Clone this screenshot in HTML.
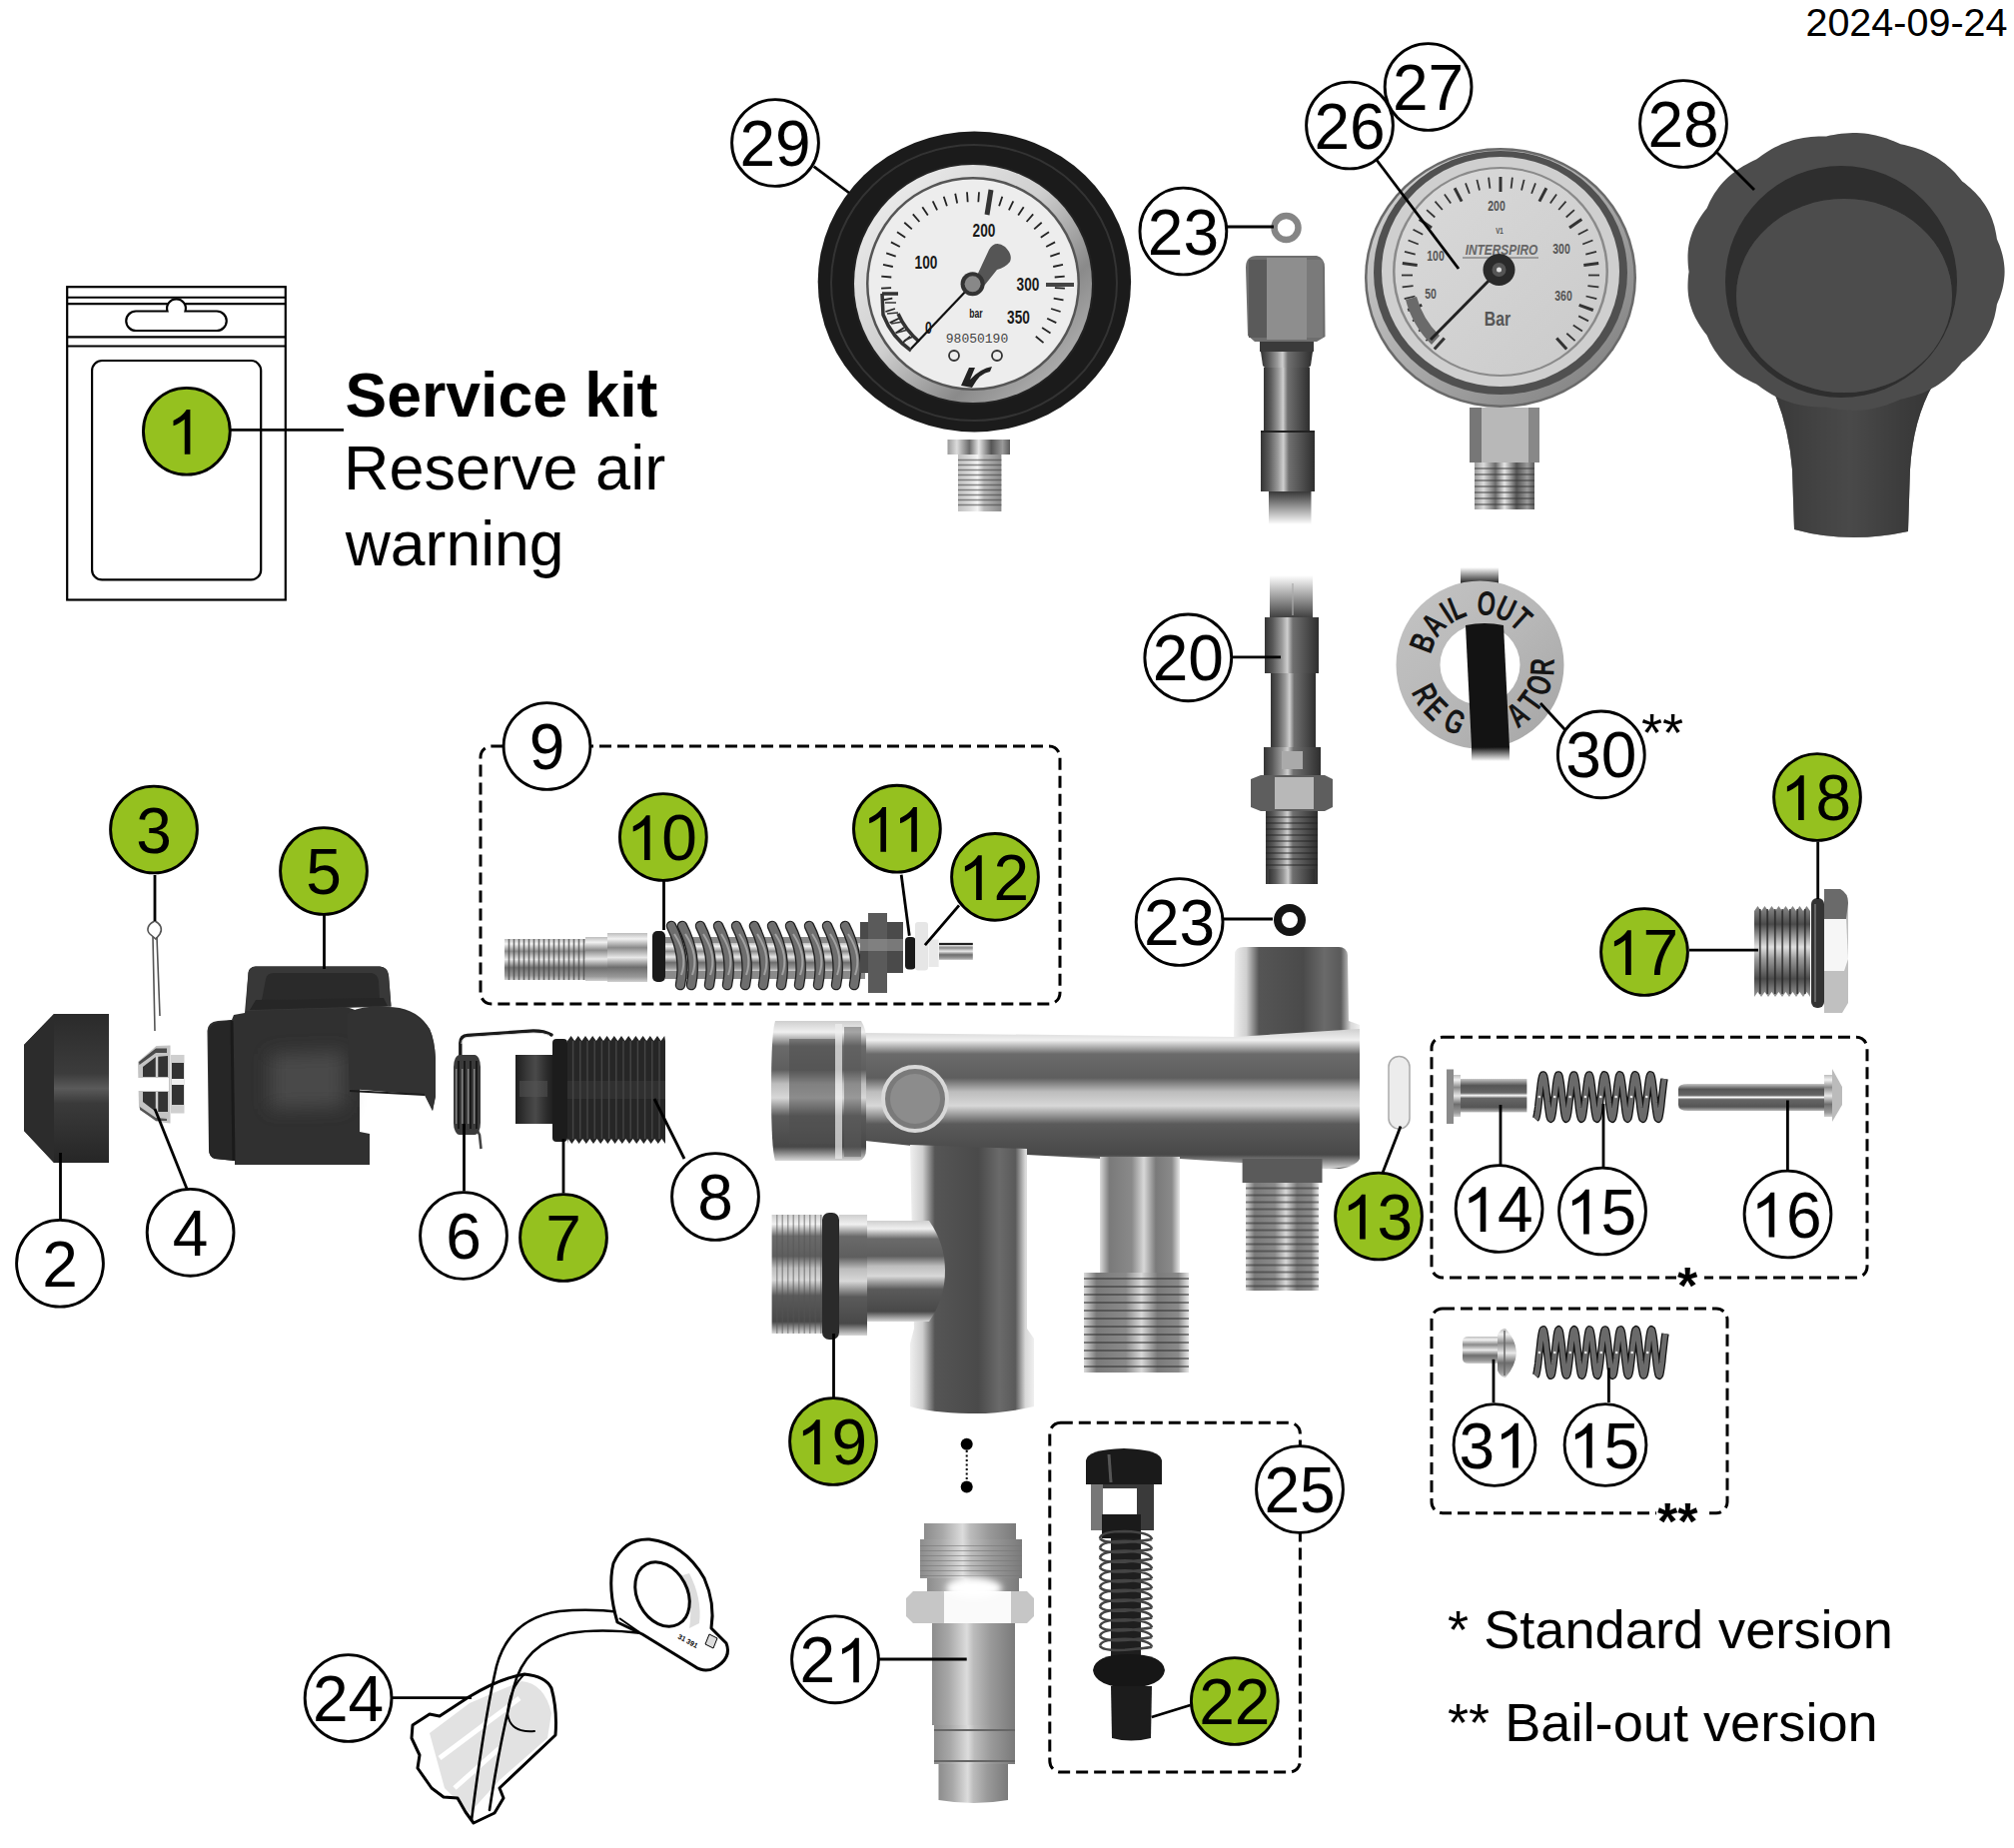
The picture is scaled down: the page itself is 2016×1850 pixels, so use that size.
<!DOCTYPE html><html><head><meta charset="utf-8"><style>html,body{margin:0;padding:0;background:#fff;overflow:hidden}svg{display:block}</style></head><body>
<svg width="2016" height="1850" viewBox="0 0 2016 1850">
<defs>
<filter id="soft" x="-50%" y="-50%" width="200%" height="200%"><feGaussianBlur stdDeviation="9"/></filter>
<filter id="soft3" x="-50%" y="-50%" width="200%" height="200%"><feGaussianBlur stdDeviation="3"/></filter>
<linearGradient id="chrD" x1="0" y1="0" x2="1" y2="0">
 <stop offset="0" stop-color="#333"/><stop offset="0.15" stop-color="#5a5a5a"/><stop offset="0.32" stop-color="#9a9a9a"/><stop offset="0.42" stop-color="#cfcfcf"/>
 <stop offset="0.52" stop-color="#707070"/><stop offset="0.8" stop-color="#4a4a4a"/><stop offset="1" stop-color="#2e2e2e"/>
</linearGradient>
<linearGradient id="chr21" x1="0" y1="0" x2="1" y2="0">
 <stop offset="0" stop-color="#8c8c8c"/><stop offset="0.2" stop-color="#a8a8a8"/><stop offset="0.42" stop-color="#dcdcdc"/><stop offset="0.5" stop-color="#bcbcbc"/>
 <stop offset="0.7" stop-color="#9a9a9a"/><stop offset="1" stop-color="#7a7a7a"/>
</linearGradient>
<linearGradient id="chr17" x1="0" y1="0" x2="0" y2="1">
 <stop offset="0" stop-color="#8a8a8a"/><stop offset="0.2" stop-color="#4a4a4a"/><stop offset="0.45" stop-color="#e0e0e0"/><stop offset="0.58" stop-color="#9a9a9a"/>
 <stop offset="0.8" stop-color="#4a4a4a"/><stop offset="1" stop-color="#9a9a9a"/>
</linearGradient>
<linearGradient id="chrVD" x1="0" y1="0" x2="0" y2="1">
 <stop offset="0" stop-color="#c8c8c8"/><stop offset="0.2" stop-color="#555"/><stop offset="0.42" stop-color="#666"/><stop offset="0.5" stop-color="#fafafa"/>
 <stop offset="0.58" stop-color="#666"/><stop offset="0.85" stop-color="#555"/><stop offset="1" stop-color="#b8b8b8"/>
</linearGradient>
<linearGradient id="chrV" x1="0" y1="0" x2="0" y2="1">
 <stop offset="0" stop-color="#bdbdbd"/><stop offset="0.12" stop-color="#f2f2f2"/><stop offset="0.3" stop-color="#8a8a8a"/>
 <stop offset="0.5" stop-color="#e8e8e8"/><stop offset="0.7" stop-color="#6e6e6e"/><stop offset="0.9" stop-color="#9a9a9a"/><stop offset="1" stop-color="#d0d0d0"/>
</linearGradient>
<linearGradient id="chrH" x1="0" y1="0" x2="1" y2="0">
 <stop offset="0" stop-color="#9a9a9a"/><stop offset="0.15" stop-color="#dcdcdc"/><stop offset="0.35" stop-color="#6a6a6a"/>
 <stop offset="0.5" stop-color="#e6e6e6"/><stop offset="0.7" stop-color="#555"/><stop offset="0.88" stop-color="#9a9a9a"/><stop offset="1" stop-color="#5a5a5a"/>
</linearGradient>
<linearGradient id="chrH2" x1="0" y1="0" x2="1" y2="0">
 <stop offset="0" stop-color="#777"/><stop offset="0.2" stop-color="#c8c8c8"/><stop offset="0.45" stop-color="#e8e8e8"/>
 <stop offset="0.65" stop-color="#8c8c8c"/><stop offset="1" stop-color="#5c5c5c"/>
</linearGradient>
<linearGradient id="chrH3" x1="0" y1="0" x2="1" y2="0">
 <stop offset="0" stop-color="#c0c0c0"/><stop offset="0.25" stop-color="#d8d8d8"/><stop offset="0.45" stop-color="#f4f4f4"/>
 <stop offset="0.6" stop-color="#b8b8b8"/><stop offset="1" stop-color="#8a8a8a"/>
</linearGradient>
<linearGradient id="darkV" x1="0" y1="0" x2="0" y2="1">
 <stop offset="0" stop-color="#2a2a2a"/><stop offset="0.4" stop-color="#3c3c3c"/><stop offset="0.5" stop-color="#5a5a5a"/><stop offset="0.6" stop-color="#3a3a3a"/><stop offset="1" stop-color="#262626"/>
</linearGradient>
<linearGradient id="darkH" x1="0" y1="0" x2="1" y2="0">
 <stop offset="0" stop-color="#1e1e1e"/><stop offset="0.3" stop-color="#3a3a3a"/><stop offset="0.5" stop-color="#4a4a4a"/><stop offset="0.8" stop-color="#2a2a2a"/><stop offset="1" stop-color="#1a1a1a"/>
</linearGradient>
<linearGradient id="hoseFadeTop" x1="0" y1="0" x2="0" y2="1">
 <stop offset="0" stop-color="#3a3a3a" stop-opacity="0"/><stop offset="1" stop-color="#3a3a3a" stop-opacity="1"/>
</linearGradient>
<linearGradient id="hoseFadeBot" x1="0" y1="0" x2="0" y2="1">
 <stop offset="0" stop-color="#3a3a3a" stop-opacity="1"/><stop offset="1" stop-color="#3a3a3a" stop-opacity="0"/>
</linearGradient>
<linearGradient id="blackFadeTop" x1="0" y1="0" x2="0" y2="1">
 <stop offset="0" stop-color="#151515" stop-opacity="0"/><stop offset="1" stop-color="#151515" stop-opacity="1"/>
</linearGradient>
<linearGradient id="blackFadeBot" x1="0" y1="0" x2="0" y2="1">
 <stop offset="0" stop-color="#151515" stop-opacity="1"/><stop offset="1" stop-color="#151515" stop-opacity="0"/>
</linearGradient>
<linearGradient id="hoseH" x1="0" y1="0" x2="1" y2="0">
 <stop offset="0" stop-color="#222"/><stop offset="0.45" stop-color="#444"/><stop offset="0.55" stop-color="#777"/><stop offset="0.65" stop-color="#3a3a3a"/><stop offset="1" stop-color="#222"/>
</linearGradient>
<linearGradient id="bezel29" x1="0" y1="0" x2="1" y2="1">
 <stop offset="0" stop-color="#f4f4f4"/><stop offset="0.45" stop-color="#cfcfcf"/><stop offset="0.7" stop-color="#8a8a8a"/><stop offset="1" stop-color="#c8c8c8"/>
</linearGradient>
<linearGradient id="bezel26" x1="0" y1="0" x2="1" y2="1">
 <stop offset="0" stop-color="#d8d8d8"/><stop offset="0.5" stop-color="#aaaaaa"/><stop offset="1" stop-color="#7a7a7a"/>
</linearGradient>
<radialGradient id="boot28" cx="0.5" cy="0.45" r="0.6">
 <stop offset="0" stop-color="#555"/><stop offset="0.8" stop-color="#4a4a4a"/><stop offset="1" stop-color="#3a3a3a"/>
</radialGradient>
<linearGradient id="disc30" x1="0" y1="0" x2="1" y2="1">
 <stop offset="0" stop-color="#c4c4c4"/><stop offset="0.5" stop-color="#b8b8b8"/><stop offset="1" stop-color="#a4a4a4"/>
</linearGradient>
<linearGradient id="face26" x1="0" y1="0" x2="1" y2="1">
 <stop offset="0" stop-color="#dadada"/><stop offset="1" stop-color="#cacaca"/>
</linearGradient>
<linearGradient id="man" x1="0" y1="0" x2="0" y2="1">
 <stop offset="0" stop-color="#cfcfcf"/><stop offset="0.08" stop-color="#f0f0f0"/><stop offset="0.18" stop-color="#6a6a6a"/><stop offset="0.35" stop-color="#5e5e5e"/>
 <stop offset="0.45" stop-color="#bdbdbd"/><stop offset="0.55" stop-color="#d8d8d8"/><stop offset="0.68" stop-color="#5a5a5a"/><stop offset="0.9" stop-color="#484848"/><stop offset="1" stop-color="#d8d8d8"/>
</linearGradient>
<linearGradient id="manStem" x1="0" y1="0" x2="1" y2="0">
 <stop offset="0" stop-color="#f0f0f0"/><stop offset="0.1" stop-color="#d0d0d0"/><stop offset="0.2" stop-color="#555"/><stop offset="0.55" stop-color="#4a4a4a"/>
 <stop offset="0.72" stop-color="#6a6a6a"/><stop offset="0.85" stop-color="#5a5a5a"/><stop offset="0.93" stop-color="#d8d8d8"/><stop offset="1" stop-color="#f0f0f0"/>
</linearGradient>
<linearGradient id="manStem2" x1="0" y1="0" x2="1" y2="0">
 <stop offset="0" stop-color="#dadada"/><stop offset="0.12" stop-color="#7a7a7a"/><stop offset="0.4" stop-color="#8a8a8a"/><stop offset="0.55" stop-color="#d8d8d8"/>
 <stop offset="0.7" stop-color="#7a7a7a"/><stop offset="0.9" stop-color="#8a8a8a"/><stop offset="1" stop-color="#e8e8e8"/>
</linearGradient>
</defs>
<rect width="2016" height="1850" fill="#fff"/>
<text x="2009.5" y="36" text-anchor="end" font-size="39.5" font-family="Liberation Sans, sans-serif" fill="#000">2024-09-24</text>
<g fill="none" stroke="#000" stroke-width="2.2">
<rect x="67.2" y="287.2" width="218.6" height="313.3"/>
<line x1="67.2" y1="297.75" x2="285.8" y2="297.75"/>
<line x1="67.2" y1="304.2" x2="285.8" y2="304.2"/>
<line x1="67.2" y1="337.3" x2="285.8" y2="337.3"/>
<line x1="67.2" y1="346.5" x2="285.8" y2="346.5"/>
<path d="M 136 311.5 L 167.5 311.5 A 9.4 9.4 0 1 1 185.5 311.5 L 217 311.5 A 9.75 9.75 0 0 1 217 331 L 136 331 A 9.75 9.75 0 0 1 136 311.5 Z" fill="#fff"/>
<rect x="92.1" y="361" width="169.1" height="219.4" rx="10" ry="10"/>
</g>
<text x="345.6" y="416.5" font-size="62.5" font-weight="bold" font-family="Liberation Sans, sans-serif" fill="#000">Service kit</text>
<text x="344" y="490.3" font-size="63" font-family="Liberation Sans, sans-serif" fill="#000">Reserve air</text>
<text x="345.7" y="566" font-size="62.5" font-family="Liberation Sans, sans-serif" fill="#000">warning</text>
<line x1="231" y1="430.4" x2="344" y2="430.4" stroke="#000" stroke-width="2.8"/>
<text x="1449" y="1649.5" font-size="54.2" font-family="Liberation Sans, sans-serif" fill="#000">* Standard version</text>
<text x="1449" y="1742.6" font-size="54.2" font-family="Liberation Sans, sans-serif" fill="#000">** Bail-out version</text>
<rect x="481" y="747" width="580" height="258" rx="11" ry="11" fill="none" stroke="#000" stroke-width="3" stroke-dasharray="12 6"/>
<rect x="1433" y="1038.3" width="436" height="240.70000000000005" rx="11" ry="11" fill="none" stroke="#000" stroke-width="3" stroke-dasharray="12 6"/>
<rect x="1433" y="1310" width="296" height="204.70000000000005" rx="11" ry="11" fill="none" stroke="#000" stroke-width="3" stroke-dasharray="12 6"/>
<rect x="1050.8" y="1424.2" width="250.60000000000014" height="349.79999999999995" rx="11" ry="11" fill="none" stroke="#000" stroke-width="3" stroke-dasharray="12 6"/>
<rect x="1678" y="1268" width="28" height="22" fill="#fff"/>
<text x="1679" y="1305" font-size="52" font-weight="bold" font-family="Liberation Sans, sans-serif" fill="#000">*</text>
<rect x="1658" y="1500" width="50" height="24" fill="#fff"/>
<text x="1659" y="1541" font-size="52" font-weight="bold" font-family="Liberation Sans, sans-serif" fill="#000">**</text>
<path d="M 54 1015 L 109 1015 L 109 1164 L 54 1164 L 24 1132 L 24 1046 Z" fill="#333" /><path d="M 54 1015 L 109 1015 L 109 1164 L 54 1164 Z" fill="url(#darkV)" /><path d="M 24 1046 L 54 1015 L 54 1164 L 24 1132 Z" fill="#2c2c2c" />
<g fill="none" stroke="#555" stroke-width="1.6"><path d="M 155 922 C 148 925 146 931 150 935 L 156 940 L 160 935 C 163 930 161 925 155 922 Z"/><path d="M 153 938 L 155 1032 M 157 938 L 160 1017"/></g>
<rect x="171" y="1056" width="13.5" height="58.5" fill="#cfcfcf" /><rect x="172" y="1064" width="12" height="42" fill="#333" /><rect x="172" y="1080" width="12" height="6" fill="#f0f0f0" /><path d="M 138 1063 L 156.5 1047 L 170.5 1046.5 L 170.5 1124.5 L 156.5 1123 L 139 1109 Z" fill="#c4c4c4" /><path d="M 139 1063 L 156 1049.5 L 167 1049.5 L 167 1054 L 156 1054 L 139.5 1066 Z" fill="#4a4a4a" /><path d="M 143 1068 L 156 1058 L 168 1057 L 168 1078 L 143 1078 Z" fill="#333" /><path d="M 143 1093 L 168 1093 L 168 1113 L 156 1113 L 143 1103 Z" fill="#333" /><path d="M 140 1108 L 156 1119 L 167 1120 L 167 1122 L 156 1122 L 140 1111 Z" fill="#555" /><path d="M 157 1057 L 157 1078 M 157 1093 L 157 1113" stroke="#cfcfcf" stroke-width="2.5"/><rect x="136" y="1079" width="33" height="13" fill="#fff" />
<path d="M 248.5 974 Q 249 968 256 967.5 L 380 967.5 Q 388 968 389 976 L 391.5 1007.5 L 345 1008 Q 357 1010 360 1015 L 365 1012 Q 380 1006 400 1009 Q 420 1013 430 1030 Q 435 1040 436 1060 L 436 1098 L 433 1112 L 425 1096 L 360 1090 L 360 1133 L 370 1135 L 370 1166 L 235 1166 L 235 1162 L 215 1160 Q 209 1158 209 1150 L 207.5 1032 Q 208 1023 218 1022 L 232 1021 L 234 1016 L 245 1014 Z" fill="#303030" /><path d="M 248.5 974 Q 249 968 256 967.5 L 380 967.5 Q 388 968 389 976 L 391.5 1007.5 L 246 1012 Z" fill="#383838" /><path d="M 266 980 Q 267 974 274 974 L 372 974 Q 378 975 379 982 L 380 1000 L 262 1001 Z" fill="#2a2a2a" /><path d="M 256 1001 L 384 999 L 388 1007 L 250 1011 Z" fill="#262626" /><path d="M 209 1032 Q 210 1024 222 1023 L 232 1021 L 234 1162 L 215 1160 Q 209 1158 209 1150 Z" fill="#262626" /><path d="M 232 1022 L 234 1162" stroke="#1a1a1a" stroke-width="3"/><path d="M 270 1055 L 345 1052 L 345 1108 L 270 1110 Z" fill="#4a4a4a" filter="url(#soft)"/><path d="M 347 1015 Q 357 1008 380 1007 Q 415 1010 430 1030 Q 435 1042 436 1060 L 436 1096 L 433 1112 L 425 1096 L 350 1090 Z" fill="#323232" /><path d="M 350 1092 L 425 1096" stroke="#1a1a1a" stroke-width="2"/>
<path d="M 460.8 1057 L 460.8 1044 Q 461 1037 468 1036.5 L 534 1032 Q 545 1032 552 1036" fill="none" stroke="#1a1a1a" stroke-width="3.4" stroke-linecap="round"/><path d="M 462 1045 Q 462 1039 468 1038.5 L 534 1034 Q 544 1034 550 1036.5" fill="none" stroke="#ddd" stroke-width="1"/><path d="M 476 1128 L 480 1136 L 481.5 1150" fill="none" stroke="#444" stroke-width="2.6"/><rect x="454" y="1056" width="27" height="80" rx="6" ry="12" fill="#3a3a3a"/><path d="M 459 1062 L 459 1130" stroke="#111" stroke-width="1.6"/><path d="M 456.8 1070 L 456.8 1125" stroke="#bdbdbd" stroke-width="1" opacity="0.8"/><path d="M 465 1062 L 465 1130" stroke="#111" stroke-width="1.6"/><path d="M 462.8 1070 L 462.8 1125" stroke="#bdbdbd" stroke-width="1" opacity="0.8"/><path d="M 471 1062 L 471 1130" stroke="#111" stroke-width="1.6"/><path d="M 468.8 1070 L 468.8 1125" stroke="#bdbdbd" stroke-width="1" opacity="0.8"/><path d="M 477 1062 L 477 1130" stroke="#111" stroke-width="1.6"/><path d="M 474.8 1070 L 474.8 1125" stroke="#bdbdbd" stroke-width="1" opacity="0.8"/>
<rect x="516" y="1056" width="40" height="69" fill="url(#darkH)" /><rect x="520" y="1082" width="28" height="16" fill="#555" opacity="0.5"/><rect x="553" y="1040" width="15" height="103" fill="#1c1c1c" rx="4"/><path d="M 568 1042 L 571.6 1037 L 575.2 1042 L 578.8 1037 L 582.4 1042 L 586.0 1037 L 589.6 1042 L 593.2 1037 L 596.8 1042 L 600.4 1037 L 604.0 1042 L 607.6 1037 L 611.2 1042 L 614.8 1037 L 618.4 1042 L 622.0 1037 L 625.6 1042 L 629.2 1037 L 632.8 1042 L 636.4 1037 L 640.0 1042 L 643.6 1037 L 647.2 1042 L 650.8 1037 L 654.4 1042 L 658.0 1037 L 661.6 1042 L 665.2 1037 L 666.0 1042 L 666 1145 L 662.4 1140 L 658.8 1145 L 655.2 1140 L 651.6 1145 L 648.0 1140 L 644.4 1145 L 640.8 1140 L 637.2 1145 L 633.6 1140 L 630.0 1145 L 626.4 1140 L 622.8 1145 L 619.2 1140 L 615.6 1145 L 612.0 1140 L 608.4 1145 L 604.8 1140 L 601.2 1145 L 597.6 1140 L 594.0 1145 L 590.4 1140 L 586.8 1145 L 583.2 1140 L 579.6 1145 L 576.0 1140 L 572.4 1145 L 568.8 1140 L 568.0 1145 Z" fill="#262626" /><line x1="573.6" y1="1042" x2="573.6" y2="1140" stroke="#5a5a5a" stroke-width="1.4" opacity="0.6"/><line x1="580.8" y1="1042" x2="580.8" y2="1140" stroke="#5a5a5a" stroke-width="1.4" opacity="0.6"/><line x1="588.0" y1="1042" x2="588.0" y2="1140" stroke="#5a5a5a" stroke-width="1.4" opacity="0.6"/><line x1="595.2" y1="1042" x2="595.2" y2="1140" stroke="#5a5a5a" stroke-width="1.4" opacity="0.6"/><line x1="602.4" y1="1042" x2="602.4" y2="1140" stroke="#5a5a5a" stroke-width="1.4" opacity="0.6"/><line x1="609.6" y1="1042" x2="609.6" y2="1140" stroke="#5a5a5a" stroke-width="1.4" opacity="0.6"/><line x1="616.8" y1="1042" x2="616.8" y2="1140" stroke="#5a5a5a" stroke-width="1.4" opacity="0.6"/><line x1="624.0" y1="1042" x2="624.0" y2="1140" stroke="#5a5a5a" stroke-width="1.4" opacity="0.6"/><line x1="631.2" y1="1042" x2="631.2" y2="1140" stroke="#5a5a5a" stroke-width="1.4" opacity="0.6"/><line x1="638.4" y1="1042" x2="638.4" y2="1140" stroke="#5a5a5a" stroke-width="1.4" opacity="0.6"/><line x1="645.6" y1="1042" x2="645.6" y2="1140" stroke="#5a5a5a" stroke-width="1.4" opacity="0.6"/><line x1="652.8" y1="1042" x2="652.8" y2="1140" stroke="#5a5a5a" stroke-width="1.4" opacity="0.6"/><line x1="660.0" y1="1042" x2="660.0" y2="1140" stroke="#5a5a5a" stroke-width="1.4" opacity="0.6"/><rect x="568" y="1082" width="98" height="18" fill="#444" opacity="0.35"/>
<rect x="505" y="940" width="81" height="41" fill="url(#chrV)" /><line x1="509.5" y1="940" x2="509.5" y2="981" stroke="#444" stroke-width="1.6" opacity="0.7"/><line x1="514.5" y1="940" x2="514.5" y2="981" stroke="#444" stroke-width="1.6" opacity="0.7"/><line x1="519.5" y1="940" x2="519.5" y2="981" stroke="#444" stroke-width="1.6" opacity="0.7"/><line x1="524.5" y1="940" x2="524.5" y2="981" stroke="#444" stroke-width="1.6" opacity="0.7"/><line x1="529.5" y1="940" x2="529.5" y2="981" stroke="#444" stroke-width="1.6" opacity="0.7"/><line x1="534.5" y1="940" x2="534.5" y2="981" stroke="#444" stroke-width="1.6" opacity="0.7"/><line x1="539.5" y1="940" x2="539.5" y2="981" stroke="#444" stroke-width="1.6" opacity="0.7"/><line x1="544.5" y1="940" x2="544.5" y2="981" stroke="#444" stroke-width="1.6" opacity="0.7"/><line x1="549.5" y1="940" x2="549.5" y2="981" stroke="#444" stroke-width="1.6" opacity="0.7"/><line x1="554.5" y1="940" x2="554.5" y2="981" stroke="#444" stroke-width="1.6" opacity="0.7"/><line x1="559.5" y1="940" x2="559.5" y2="981" stroke="#444" stroke-width="1.6" opacity="0.7"/><line x1="564.5" y1="940" x2="564.5" y2="981" stroke="#444" stroke-width="1.6" opacity="0.7"/><line x1="569.5" y1="940" x2="569.5" y2="981" stroke="#444" stroke-width="1.6" opacity="0.7"/><line x1="574.5" y1="940" x2="574.5" y2="981" stroke="#444" stroke-width="1.6" opacity="0.7"/><line x1="579.5" y1="940" x2="579.5" y2="981" stroke="#444" stroke-width="1.6" opacity="0.7"/><line x1="584.5" y1="940" x2="584.5" y2="981" stroke="#444" stroke-width="1.6" opacity="0.7"/><rect x="586" y="938" width="22" height="44" fill="url(#chrV)" /><rect x="608" y="934" width="40" height="49" fill="url(#chrV)" /><rect x="653" y="932" width="13" height="51" fill="#1a1a1a" rx="5"/><rect x="666" y="938" width="200" height="42" fill="#8a8a8a" /><rect x="666" y="944" width="200" height="28" fill="url(#chrV)" /><path d="M 672 927 Q 687 956.5 681 986" fill="none" stroke="#1e1e1e" stroke-width="10.5" stroke-linecap="round"/><path d="M 672 927 Q 687 956.5 681 986" fill="none" stroke="#6e6e6e" stroke-width="8" stroke-linecap="round"/><path d="M 675 935 Q 689 956.5 682 976" fill="none" stroke="#b8b8b8" stroke-width="2" opacity="0.7"/><path d="M 683 927 Q 698 956.5 692 986" fill="none" stroke="#1e1e1e" stroke-width="10.5" stroke-linecap="round"/><path d="M 683 927 Q 698 956.5 692 986" fill="none" stroke="#6e6e6e" stroke-width="8" stroke-linecap="round"/><path d="M 686 935 Q 700 956.5 693 976" fill="none" stroke="#b8b8b8" stroke-width="2" opacity="0.7"/><path d="M 701 927 Q 716 956.5 710 986" fill="none" stroke="#1e1e1e" stroke-width="10.5" stroke-linecap="round"/><path d="M 701 927 Q 716 956.5 710 986" fill="none" stroke="#6e6e6e" stroke-width="8" stroke-linecap="round"/><path d="M 704 935 Q 718 956.5 711 976" fill="none" stroke="#b8b8b8" stroke-width="2" opacity="0.7"/><path d="M 719 927 Q 734 956.5 728 986" fill="none" stroke="#1e1e1e" stroke-width="10.5" stroke-linecap="round"/><path d="M 719 927 Q 734 956.5 728 986" fill="none" stroke="#6e6e6e" stroke-width="8" stroke-linecap="round"/><path d="M 722 935 Q 736 956.5 729 976" fill="none" stroke="#b8b8b8" stroke-width="2" opacity="0.7"/><path d="M 737 927 Q 752 956.5 746 986" fill="none" stroke="#1e1e1e" stroke-width="10.5" stroke-linecap="round"/><path d="M 737 927 Q 752 956.5 746 986" fill="none" stroke="#6e6e6e" stroke-width="8" stroke-linecap="round"/><path d="M 740 935 Q 754 956.5 747 976" fill="none" stroke="#b8b8b8" stroke-width="2" opacity="0.7"/><path d="M 755 927 Q 770 956.5 764 986" fill="none" stroke="#1e1e1e" stroke-width="10.5" stroke-linecap="round"/><path d="M 755 927 Q 770 956.5 764 986" fill="none" stroke="#6e6e6e" stroke-width="8" stroke-linecap="round"/><path d="M 758 935 Q 772 956.5 765 976" fill="none" stroke="#b8b8b8" stroke-width="2" opacity="0.7"/><path d="M 773 927 Q 788 956.5 782 986" fill="none" stroke="#1e1e1e" stroke-width="10.5" stroke-linecap="round"/><path d="M 773 927 Q 788 956.5 782 986" fill="none" stroke="#6e6e6e" stroke-width="8" stroke-linecap="round"/><path d="M 776 935 Q 790 956.5 783 976" fill="none" stroke="#b8b8b8" stroke-width="2" opacity="0.7"/><path d="M 791 927 Q 806 956.5 800 986" fill="none" stroke="#1e1e1e" stroke-width="10.5" stroke-linecap="round"/><path d="M 791 927 Q 806 956.5 800 986" fill="none" stroke="#6e6e6e" stroke-width="8" stroke-linecap="round"/><path d="M 794 935 Q 808 956.5 801 976" fill="none" stroke="#b8b8b8" stroke-width="2" opacity="0.7"/><path d="M 810 927 Q 825 956.5 819 986" fill="none" stroke="#1e1e1e" stroke-width="10.5" stroke-linecap="round"/><path d="M 810 927 Q 825 956.5 819 986" fill="none" stroke="#6e6e6e" stroke-width="8" stroke-linecap="round"/><path d="M 813 935 Q 827 956.5 820 976" fill="none" stroke="#b8b8b8" stroke-width="2" opacity="0.7"/><path d="M 828 927 Q 843 956.5 837 986" fill="none" stroke="#1e1e1e" stroke-width="10.5" stroke-linecap="round"/><path d="M 828 927 Q 843 956.5 837 986" fill="none" stroke="#6e6e6e" stroke-width="8" stroke-linecap="round"/><path d="M 831 935 Q 845 956.5 838 976" fill="none" stroke="#b8b8b8" stroke-width="2" opacity="0.7"/><path d="M 846 927 Q 861 956.5 855 986" fill="none" stroke="#1e1e1e" stroke-width="10.5" stroke-linecap="round"/><path d="M 846 927 Q 861 956.5 855 986" fill="none" stroke="#6e6e6e" stroke-width="8" stroke-linecap="round"/><path d="M 849 935 Q 863 956.5 856 976" fill="none" stroke="#b8b8b8" stroke-width="2" opacity="0.7"/><rect x="861" y="923" width="43" height="51" fill="#4a4a4a" /><rect x="869" y="914" width="19" height="80" fill="#5a5a5a" /><rect x="861" y="940" width="43" height="12" fill="#9a9a9a" opacity="0.6"/><rect x="906" y="938" width="10.5" height="32.39999999999998" fill="#1a1a1a" rx="4"/><rect x="916" y="923" width="13" height="48.60000000000002" fill="#e6e6e6" rx="3"/><rect x="929.6" y="940.5" width="10.0" height="27.5" fill="#e9e9e9" /><rect x="940" y="943.6" width="33.799999999999955" height="17.399999999999977" fill="url(#chrV)" /><line x1="940" y1="945" x2="973.8" y2="945" stroke="#222" stroke-width="2"/>
<path d="M 1236 956 Q 1236 948 1245 948 L 1340 948 Q 1348 948 1349 956 L 1350 1022 L 1361 1026 L 1361 1160 Q 1358 1168 1340 1170 L 1255 1166 L 1235 1040 Z" fill="url(#manStem)" /><path d="M 866 1034 L 1236 1038 L 1361 1030 L 1361 1160 Q 1358 1168 1330 1170 L 1181 1160 L 1101 1160 L 1028 1156 L 922 1148 L 866 1142 Z" fill="url(#man)" /><path d="M 776 1022 L 862 1022 Q 867 1030 867 1040 L 867 1150 Q 867 1160 860 1162 L 776 1162 Q 772 1150 772 1092 Q 772 1034 776 1022 Z" fill="url(#man)" /><rect x="790" y="1040" width="46" height="105" fill="#4e4e4e" opacity="0.55"/><rect x="836" y="1025" width="7" height="135" fill="#eee" opacity="0.7"/><rect x="845" y="1028" width="17" height="130" fill="#5a5a5a" opacity="0.5"/><circle cx="916" cy="1100" r="32" fill="#7a7a7a" stroke="#d8d8d8" stroke-width="4"/><circle cx="916" cy="1100" r="25" fill="#8c8c8c"/><path d="M 911 1146 L 1028 1150 L 1028 1330 L 1035 1340 L 1035 1408 Q 1000 1416 970 1415 Q 930 1414 911 1408 L 911 1345 L 915 1330 Z" fill="url(#manStem)" /><path d="M 866 1222 L 930 1222 Q 946 1245 946 1272 Q 946 1300 930 1323 L 866 1323 Z" fill="url(#man)" /><rect x="840" y="1216" width="28" height="121" fill="url(#man)" /><rect x="823" y="1214" width="17" height="127" fill="#2a2a2a" rx="7"/><rect x="772.6" y="1216" width="50.39999999999998" height="119" fill="url(#man)" /><line x1="777.8" y1="1216" x2="777.8" y2="1335" stroke="#555" stroke-width="1.2" opacity="0.6"/><line x1="783.2" y1="1216" x2="783.2" y2="1335" stroke="#555" stroke-width="1.2" opacity="0.6"/><line x1="788.8" y1="1216" x2="788.8" y2="1335" stroke="#555" stroke-width="1.2" opacity="0.6"/><line x1="794.2" y1="1216" x2="794.2" y2="1335" stroke="#555" stroke-width="1.2" opacity="0.6"/><line x1="799.8" y1="1216" x2="799.8" y2="1335" stroke="#555" stroke-width="1.2" opacity="0.6"/><line x1="805.2" y1="1216" x2="805.2" y2="1335" stroke="#555" stroke-width="1.2" opacity="0.6"/><line x1="810.8" y1="1216" x2="810.8" y2="1335" stroke="#555" stroke-width="1.2" opacity="0.6"/><line x1="816.2" y1="1216" x2="816.2" y2="1335" stroke="#555" stroke-width="1.2" opacity="0.6"/><line x1="821.8" y1="1216" x2="821.8" y2="1335" stroke="#555" stroke-width="1.2" opacity="0.6"/><rect x="1101" y="1158" width="80" height="117" fill="url(#manStem2)" /><rect x="1085" y="1274" width="105" height="100" fill="url(#manStem2)" /><line x1="1085" y1="1280.0" x2="1190" y2="1280.0" stroke="#333" stroke-width="2" opacity="0.55"/><line x1="1085" y1="1288.0" x2="1190" y2="1288.0" stroke="#333" stroke-width="2" opacity="0.55"/><line x1="1085" y1="1296.0" x2="1190" y2="1296.0" stroke="#333" stroke-width="2" opacity="0.55"/><line x1="1085" y1="1304.0" x2="1190" y2="1304.0" stroke="#333" stroke-width="2" opacity="0.55"/><line x1="1085" y1="1312.0" x2="1190" y2="1312.0" stroke="#333" stroke-width="2" opacity="0.55"/><line x1="1085" y1="1320.0" x2="1190" y2="1320.0" stroke="#333" stroke-width="2" opacity="0.55"/><line x1="1085" y1="1328.0" x2="1190" y2="1328.0" stroke="#333" stroke-width="2" opacity="0.55"/><line x1="1085" y1="1336.0" x2="1190" y2="1336.0" stroke="#333" stroke-width="2" opacity="0.55"/><line x1="1085" y1="1344.0" x2="1190" y2="1344.0" stroke="#333" stroke-width="2" opacity="0.55"/><line x1="1085" y1="1352.0" x2="1190" y2="1352.0" stroke="#333" stroke-width="2" opacity="0.55"/><line x1="1085" y1="1360.0" x2="1190" y2="1360.0" stroke="#333" stroke-width="2" opacity="0.55"/><line x1="1085" y1="1368.0" x2="1190" y2="1368.0" stroke="#333" stroke-width="2" opacity="0.55"/><rect x="1243.6" y="1160" width="79.90000000000009" height="24" fill="#5a5a5a" /><rect x="1247" y="1184" width="73" height="108" fill="url(#manStem2)" /><line x1="1247" y1="1189.5" x2="1320" y2="1189.5" stroke="#333" stroke-width="1.8" opacity="0.55"/><line x1="1247" y1="1196.5" x2="1320" y2="1196.5" stroke="#333" stroke-width="1.8" opacity="0.55"/><line x1="1247" y1="1203.5" x2="1320" y2="1203.5" stroke="#333" stroke-width="1.8" opacity="0.55"/><line x1="1247" y1="1210.5" x2="1320" y2="1210.5" stroke="#333" stroke-width="1.8" opacity="0.55"/><line x1="1247" y1="1217.5" x2="1320" y2="1217.5" stroke="#333" stroke-width="1.8" opacity="0.55"/><line x1="1247" y1="1224.5" x2="1320" y2="1224.5" stroke="#333" stroke-width="1.8" opacity="0.55"/><line x1="1247" y1="1231.5" x2="1320" y2="1231.5" stroke="#333" stroke-width="1.8" opacity="0.55"/><line x1="1247" y1="1238.5" x2="1320" y2="1238.5" stroke="#333" stroke-width="1.8" opacity="0.55"/><line x1="1247" y1="1245.5" x2="1320" y2="1245.5" stroke="#333" stroke-width="1.8" opacity="0.55"/><line x1="1247" y1="1252.5" x2="1320" y2="1252.5" stroke="#333" stroke-width="1.8" opacity="0.55"/><line x1="1247" y1="1259.5" x2="1320" y2="1259.5" stroke="#333" stroke-width="1.8" opacity="0.55"/><line x1="1247" y1="1266.5" x2="1320" y2="1266.5" stroke="#333" stroke-width="1.8" opacity="0.55"/><line x1="1247" y1="1273.5" x2="1320" y2="1273.5" stroke="#333" stroke-width="1.8" opacity="0.55"/><line x1="1247" y1="1280.5" x2="1320" y2="1280.5" stroke="#333" stroke-width="1.8" opacity="0.55"/><line x1="1247" y1="1287.5" x2="1320" y2="1287.5" stroke="#333" stroke-width="1.8" opacity="0.55"/>
<rect x="1390" y="1057.5" width="21" height="72.5" rx="10.5" fill="#ececec" stroke="#aaa" stroke-width="1.5"/>
<rect x="1448" y="1070.5" width="7" height="54.5" fill="#8a8a8a" /><rect x="1455" y="1076" width="7" height="42" fill="url(#chrV)" /><rect x="1462" y="1080" width="66.40000000000009" height="33.40000000000009" fill="url(#chrVD)" /><polyline points="1537.0,1120.2 1537.7,1119.4 1538.3,1117.0 1539.0,1113.2 1539.7,1108.2 1540.3,1102.5 1541.0,1096.4 1541.7,1090.5 1542.3,1085.1 1543.0,1080.7 1543.7,1077.6 1544.4,1075.9 1545.0,1076.0 1545.7,1077.6 1546.4,1080.8 1547.0,1085.2 1547.7,1090.6 1548.4,1096.6 1549.0,1102.6 1549.7,1108.3 1550.4,1113.3 1551.0,1117.1 1551.7,1119.5 1552.4,1120.2 1553.0,1119.4 1553.7,1116.9 1554.4,1113.1 1555.0,1108.1 1555.7,1102.4 1556.4,1096.3 1557.1,1090.4 1557.7,1085.0 1558.4,1080.6 1559.1,1077.5 1559.7,1075.9 1560.4,1076.0 1561.1,1077.7 1561.7,1080.9 1562.4,1085.4 1563.1,1090.8 1563.7,1096.7 1564.4,1102.8 1565.1,1108.5 1565.7,1113.4 1566.4,1117.2 1567.1,1119.5 1567.7,1120.2 1568.4,1119.3 1569.1,1116.9 1569.8,1113.0 1570.4,1108.0 1571.1,1102.2 1571.8,1096.2 1572.4,1090.2 1573.1,1084.9 1573.8,1080.5 1574.4,1077.5 1575.1,1075.9 1575.8,1076.0 1576.4,1077.7 1577.1,1081.0 1577.8,1085.5 1578.4,1090.9 1579.1,1096.9 1579.8,1102.9 1580.4,1108.6 1581.1,1113.5 1581.8,1117.2 1582.5,1119.5 1583.1,1120.2 1583.8,1119.3 1584.5,1116.8 1585.1,1112.9 1585.8,1107.8 1586.5,1102.1 1587.1,1096.0 1587.8,1090.1 1588.5,1084.8 1589.1,1080.4 1589.8,1077.4 1590.5,1075.9 1591.1,1076.0 1591.8,1077.8 1592.5,1081.1 1593.1,1085.6 1593.8,1091.1 1594.5,1097.0 1595.2,1103.1 1595.8,1108.7 1596.5,1113.6 1597.2,1117.3 1597.8,1119.6 1598.5,1120.2 1599.2,1119.3 1599.8,1116.7 1600.5,1112.7 1601.2,1107.7 1601.8,1101.9 1602.5,1095.9 1603.2,1090.0 1603.8,1084.7 1604.5,1080.3 1605.2,1077.3 1605.8,1075.9 1606.5,1076.1 1607.2,1077.9 1607.8,1081.2 1608.5,1085.7 1609.2,1091.2 1609.9,1097.2 1610.5,1103.2 1611.2,1108.9 1611.9,1113.7 1612.5,1117.4 1613.2,1119.6 1613.9,1120.2 1614.5,1119.2 1615.2,1116.6 1615.9,1112.6 1616.5,1107.6 1617.2,1101.8 1617.9,1095.7 1618.5,1089.8 1619.2,1084.5 1619.9,1080.3 1620.5,1077.3 1621.2,1075.9 1621.9,1076.1 1622.6,1077.9 1623.2,1081.3 1623.9,1085.8 1624.6,1091.3 1625.2,1097.3 1625.9,1103.3 1626.6,1109.0 1627.2,1113.8 1627.9,1117.4 1628.6,1119.6 1629.2,1120.2 1629.9,1119.2 1630.6,1116.5 1631.2,1112.5 1631.9,1107.4 1632.6,1101.6 1633.2,1095.6 1633.9,1089.7 1634.6,1084.4 1635.3,1080.2 1635.9,1077.2 1636.6,1075.8 1637.3,1076.1 1637.9,1078.0 1638.6,1081.4 1639.3,1086.0 1639.9,1091.5 1640.6,1097.5 1641.3,1103.5 1641.9,1109.1 1642.6,1113.9 1643.3,1117.5 1643.9,1119.7 1644.6,1120.2 1645.3,1119.1 1645.9,1116.5 1646.6,1112.4 1647.3,1107.3 1648.0,1101.5 1648.6,1095.4 1649.3,1089.6 1650.0,1084.3 1650.6,1080.1 1651.3,1077.2 1652.0,1075.8 1652.6,1076.1 1653.3,1078.1 1654.0,1081.5 1654.6,1086.1 1655.3,1091.6 1656.0,1097.6 1656.6,1103.6 1657.3,1109.2 1658.0,1114.0 1658.6,1117.6 1659.3,1119.7 1660.0,1120.2 1660.7,1119.1 1661.3,1116.4 1662.0,1112.3 1662.7,1107.2 1663.3,1101.4 1664.0,1095.3 1664.7,1089.4 1665.3,1084.2 1666.0,1080.0" fill="none" stroke="#111" stroke-width="7.5" stroke-linejoin="round"/><polyline points="1537.0,1120.2 1537.7,1119.4 1538.3,1117.0 1539.0,1113.2 1539.7,1108.2 1540.3,1102.5 1541.0,1096.4 1541.7,1090.5 1542.3,1085.1 1543.0,1080.7 1543.7,1077.6 1544.4,1075.9 1545.0,1076.0 1545.7,1077.6 1546.4,1080.8 1547.0,1085.2 1547.7,1090.6 1548.4,1096.6 1549.0,1102.6 1549.7,1108.3 1550.4,1113.3 1551.0,1117.1 1551.7,1119.5 1552.4,1120.2 1553.0,1119.4 1553.7,1116.9 1554.4,1113.1 1555.0,1108.1 1555.7,1102.4 1556.4,1096.3 1557.1,1090.4 1557.7,1085.0 1558.4,1080.6 1559.1,1077.5 1559.7,1075.9 1560.4,1076.0 1561.1,1077.7 1561.7,1080.9 1562.4,1085.4 1563.1,1090.8 1563.7,1096.7 1564.4,1102.8 1565.1,1108.5 1565.7,1113.4 1566.4,1117.2 1567.1,1119.5 1567.7,1120.2 1568.4,1119.3 1569.1,1116.9 1569.8,1113.0 1570.4,1108.0 1571.1,1102.2 1571.8,1096.2 1572.4,1090.2 1573.1,1084.9 1573.8,1080.5 1574.4,1077.5 1575.1,1075.9 1575.8,1076.0 1576.4,1077.7 1577.1,1081.0 1577.8,1085.5 1578.4,1090.9 1579.1,1096.9 1579.8,1102.9 1580.4,1108.6 1581.1,1113.5 1581.8,1117.2 1582.5,1119.5 1583.1,1120.2 1583.8,1119.3 1584.5,1116.8 1585.1,1112.9 1585.8,1107.8 1586.5,1102.1 1587.1,1096.0 1587.8,1090.1 1588.5,1084.8 1589.1,1080.4 1589.8,1077.4 1590.5,1075.9 1591.1,1076.0 1591.8,1077.8 1592.5,1081.1 1593.1,1085.6 1593.8,1091.1 1594.5,1097.0 1595.2,1103.1 1595.8,1108.7 1596.5,1113.6 1597.2,1117.3 1597.8,1119.6 1598.5,1120.2 1599.2,1119.3 1599.8,1116.7 1600.5,1112.7 1601.2,1107.7 1601.8,1101.9 1602.5,1095.9 1603.2,1090.0 1603.8,1084.7 1604.5,1080.3 1605.2,1077.3 1605.8,1075.9 1606.5,1076.1 1607.2,1077.9 1607.8,1081.2 1608.5,1085.7 1609.2,1091.2 1609.9,1097.2 1610.5,1103.2 1611.2,1108.9 1611.9,1113.7 1612.5,1117.4 1613.2,1119.6 1613.9,1120.2 1614.5,1119.2 1615.2,1116.6 1615.9,1112.6 1616.5,1107.6 1617.2,1101.8 1617.9,1095.7 1618.5,1089.8 1619.2,1084.5 1619.9,1080.3 1620.5,1077.3 1621.2,1075.9 1621.9,1076.1 1622.6,1077.9 1623.2,1081.3 1623.9,1085.8 1624.6,1091.3 1625.2,1097.3 1625.9,1103.3 1626.6,1109.0 1627.2,1113.8 1627.9,1117.4 1628.6,1119.6 1629.2,1120.2 1629.9,1119.2 1630.6,1116.5 1631.2,1112.5 1631.9,1107.4 1632.6,1101.6 1633.2,1095.6 1633.9,1089.7 1634.6,1084.4 1635.3,1080.2 1635.9,1077.2 1636.6,1075.8 1637.3,1076.1 1637.9,1078.0 1638.6,1081.4 1639.3,1086.0 1639.9,1091.5 1640.6,1097.5 1641.3,1103.5 1641.9,1109.1 1642.6,1113.9 1643.3,1117.5 1643.9,1119.7 1644.6,1120.2 1645.3,1119.1 1645.9,1116.5 1646.6,1112.4 1647.3,1107.3 1648.0,1101.5 1648.6,1095.4 1649.3,1089.6 1650.0,1084.3 1650.6,1080.1 1651.3,1077.2 1652.0,1075.8 1652.6,1076.1 1653.3,1078.1 1654.0,1081.5 1654.6,1086.1 1655.3,1091.6 1656.0,1097.6 1656.6,1103.6 1657.3,1109.2 1658.0,1114.0 1658.6,1117.6 1659.3,1119.7 1660.0,1120.2 1660.7,1119.1 1661.3,1116.4 1662.0,1112.3 1662.7,1107.2 1663.3,1101.4 1664.0,1095.3 1664.7,1089.4 1665.3,1084.2 1666.0,1080.0" fill="none" stroke="#6a6a6a" stroke-width="5.0" stroke-linejoin="round"/><circle cx="1540.8" cy="1098.0" r="1.3" fill="#eee"/><circle cx="1556.2" cy="1098.0" r="1.3" fill="#eee"/><circle cx="1571.6" cy="1098.0" r="1.3" fill="#eee"/><circle cx="1586.9" cy="1098.0" r="1.3" fill="#eee"/><circle cx="1602.3" cy="1098.0" r="1.3" fill="#eee"/><circle cx="1617.6" cy="1098.0" r="1.3" fill="#eee"/><circle cx="1633.0" cy="1098.0" r="1.3" fill="#eee"/><circle cx="1648.3" cy="1098.0" r="1.3" fill="#eee"/><path d="M 1680 1090 Q 1680 1085 1690 1085 L 1826 1085 L 1826 1112 L 1690 1112 Q 1680 1112 1680 1106 Z" fill="url(#chrVD)" /><rect x="1826" y="1076" width="8" height="42" fill="url(#chrV)" /><path d="M 1834 1070 L 1844 1088 L 1844 1106 L 1834 1123 Z" fill="#bbb" />
<path d="M 1756 912 L 1759.5 907 L 1763.0 912 L 1766.5 907 L 1770.0 912 L 1773.5 907 L 1777.0 912 L 1780.5 907 L 1784.0 912 L 1787.5 907 L 1791.0 912 L 1794.5 907 L 1798.0 912 L 1801.5 907 L 1805.0 912 L 1808.5 907 L 1812.0 912 L 1812 998  L 1808.5 993 L 1805.0 998 L 1801.5 993 L 1798.0 998 L 1794.5 993 L 1791.0 998 L 1787.5 993 L 1784.0 998 L 1780.5 993 L 1777.0 998 L 1773.5 993 L 1770.0 998 L 1766.5 993 L 1763.0 998 L 1759.5 993 L 1756.0 998 Z" fill="url(#chr17)" /><line x1="1761.8" y1="910" x2="1761.8" y2="995" stroke="#222" stroke-width="1.8" opacity="0.75"/><line x1="1769.2" y1="910" x2="1769.2" y2="995" stroke="#222" stroke-width="1.8" opacity="0.75"/><line x1="1776.8" y1="910" x2="1776.8" y2="995" stroke="#222" stroke-width="1.8" opacity="0.75"/><line x1="1784.2" y1="910" x2="1784.2" y2="995" stroke="#222" stroke-width="1.8" opacity="0.75"/><line x1="1791.8" y1="910" x2="1791.8" y2="995" stroke="#222" stroke-width="1.8" opacity="0.75"/><line x1="1799.2" y1="910" x2="1799.2" y2="995" stroke="#222" stroke-width="1.8" opacity="0.75"/><line x1="1806.8" y1="910" x2="1806.8" y2="995" stroke="#222" stroke-width="1.8" opacity="0.75"/><rect x="1813" y="899" width="13" height="110" fill="#333" rx="6"/><line x1="1817" y1="905" x2="1817" y2="1003" stroke="#777" stroke-width="1.5"/><path d="M 1826 890 L 1842 890 Q 1850 894 1850 904 L 1850 1004 L 1844 1014 L 1826 1014 Z" fill="#c0c0c0" /><path d="M 1826 890 L 1842 890 Q 1850 894 1850 904 L 1848 920 L 1826 920 Z" fill="#6a6a6a" /><path d="M 1826 920 L 1848 920 L 1850 960 L 1846 972 L 1826 972 Z" fill="#f6f6f6" />
<path d="M 1464 1343 Q 1464 1338 1470 1338 L 1500 1338 L 1500 1365 L 1470 1365 Q 1464 1365 1464 1360 Z" fill="url(#chrV)" /><path d="M 1499 1336 Q 1503 1329 1507 1330 Q 1517 1340 1518 1354 Q 1517 1368 1507 1379 Q 1502 1379 1499 1372 Z" fill="url(#chrV)" /><line x1="1506" y1="1332" x2="1506" y2="1377" stroke="#666" stroke-width="1.5"/><polyline points="1537.0,1377.2 1537.7,1376.4 1538.3,1373.9 1539.0,1370.0 1539.7,1364.9 1540.3,1359.0 1541.0,1352.8 1541.7,1346.6 1542.3,1341.0 1543.0,1336.3 1543.7,1332.9 1544.3,1331.1 1545.0,1330.9 1545.7,1332.4 1546.3,1335.5 1547.0,1339.9 1547.7,1345.3 1548.3,1351.4 1549.0,1357.7 1549.7,1363.7 1550.3,1369.0 1551.0,1373.2 1551.7,1376.0 1552.3,1377.2 1553.0,1376.7 1553.7,1374.6 1554.3,1370.9 1555.0,1366.1 1555.7,1360.3 1556.3,1354.1 1557.0,1347.9 1557.7,1342.1 1558.3,1337.2 1559.0,1333.5 1559.7,1331.3 1560.3,1330.8 1561.0,1331.9 1561.7,1334.7 1562.3,1338.8 1563.0,1344.1 1563.7,1350.1 1564.3,1356.4 1565.0,1362.5 1565.7,1367.9 1566.3,1372.4 1567.0,1375.5 1567.7,1377.1 1568.3,1377.0 1569.0,1375.2 1569.7,1371.8 1570.3,1367.2 1571.0,1361.6 1571.7,1355.5 1572.3,1349.2 1573.0,1343.3 1573.7,1338.2 1574.3,1334.2 1575.0,1331.7 1575.7,1330.8 1576.3,1331.5 1577.0,1334.0 1577.7,1337.8 1578.3,1342.9 1579.0,1348.8 1579.7,1355.0 1580.3,1361.2 1581.0,1366.8 1581.7,1371.6 1582.3,1375.0 1583.0,1376.9 1583.7,1377.1 1584.3,1375.7 1585.0,1372.7 1585.7,1368.3 1586.3,1362.9 1587.0,1356.8 1587.7,1350.5 1588.3,1344.5 1589.0,1339.2 1589.7,1334.9 1590.3,1332.1 1591.0,1330.8 1591.7,1331.2 1592.3,1333.3 1593.0,1336.9 1593.7,1341.7 1594.3,1347.5 1595.0,1353.7 1595.7,1359.9 1596.3,1365.7 1597.0,1370.6 1597.7,1374.4 1598.3,1376.6 1599.0,1377.2 1599.7,1376.1 1600.3,1373.4 1601.0,1369.3 1601.7,1364.1 1602.3,1358.1 1603.0,1351.9 1603.7,1345.8 1604.3,1340.2 1605.0,1335.7 1605.7,1332.6 1606.3,1330.9 1607.0,1331.0 1607.7,1332.7 1608.3,1336.0 1609.0,1340.6 1609.7,1346.2 1610.3,1352.3 1611.0,1358.6 1611.7,1364.5 1612.3,1369.7 1613.0,1373.7 1613.7,1376.3 1614.3,1377.2 1615.0,1376.5 1615.7,1374.2 1616.3,1370.3 1617.0,1365.3 1617.7,1359.5 1618.3,1353.2 1619.0,1347.0 1619.7,1341.4 1620.3,1336.6 1621.0,1333.1 1621.7,1331.1 1622.3,1330.8 1623.0,1332.2 1623.7,1335.2 1624.3,1339.5 1625.0,1344.9 1625.7,1351.0 1626.3,1357.2 1627.0,1363.3 1627.7,1368.6 1628.3,1372.9 1629.0,1375.9 1629.7,1377.2 1630.3,1376.8 1631.0,1374.8 1631.7,1371.3 1632.3,1366.5 1633.0,1360.8 1633.7,1354.6 1634.3,1348.3 1635.0,1342.5 1635.7,1337.5 1636.3,1333.7 1637.0,1331.4 1637.7,1330.8 1638.3,1331.8 1639.0,1334.4 1639.7,1338.5 1640.3,1343.7 1641.0,1349.6 1641.7,1355.9 1642.3,1362.0 1643.0,1367.6 1643.7,1372.1 1644.3,1375.4 1645.0,1377.0 1645.7,1377.0 1646.3,1375.4 1647.0,1372.1 1647.7,1367.6 1648.3,1362.0 1649.0,1355.9 1649.7,1349.6 1650.3,1343.7 1651.0,1338.5 1651.7,1334.4 1652.3,1331.8 1653.0,1330.8 1653.7,1331.4 1654.3,1333.7 1655.0,1337.5 1655.7,1342.5 1656.3,1348.3 1657.0,1354.6 1657.7,1360.8 1658.3,1366.5 1659.0,1371.3 1659.7,1374.8 1660.3,1376.8 1661.0,1377.2 1661.7,1375.9 1662.3,1372.9 1663.0,1368.6 1663.7,1363.3 1664.3,1357.2 1665.0,1351.0 1665.7,1344.9 1666.3,1339.5 1667.0,1335.2" fill="none" stroke="#111" stroke-width="7.5" stroke-linejoin="round"/><polyline points="1537.0,1377.2 1537.7,1376.4 1538.3,1373.9 1539.0,1370.0 1539.7,1364.9 1540.3,1359.0 1541.0,1352.8 1541.7,1346.6 1542.3,1341.0 1543.0,1336.3 1543.7,1332.9 1544.3,1331.1 1545.0,1330.9 1545.7,1332.4 1546.3,1335.5 1547.0,1339.9 1547.7,1345.3 1548.3,1351.4 1549.0,1357.7 1549.7,1363.7 1550.3,1369.0 1551.0,1373.2 1551.7,1376.0 1552.3,1377.2 1553.0,1376.7 1553.7,1374.6 1554.3,1370.9 1555.0,1366.1 1555.7,1360.3 1556.3,1354.1 1557.0,1347.9 1557.7,1342.1 1558.3,1337.2 1559.0,1333.5 1559.7,1331.3 1560.3,1330.8 1561.0,1331.9 1561.7,1334.7 1562.3,1338.8 1563.0,1344.1 1563.7,1350.1 1564.3,1356.4 1565.0,1362.5 1565.7,1367.9 1566.3,1372.4 1567.0,1375.5 1567.7,1377.1 1568.3,1377.0 1569.0,1375.2 1569.7,1371.8 1570.3,1367.2 1571.0,1361.6 1571.7,1355.5 1572.3,1349.2 1573.0,1343.3 1573.7,1338.2 1574.3,1334.2 1575.0,1331.7 1575.7,1330.8 1576.3,1331.5 1577.0,1334.0 1577.7,1337.8 1578.3,1342.9 1579.0,1348.8 1579.7,1355.0 1580.3,1361.2 1581.0,1366.8 1581.7,1371.6 1582.3,1375.0 1583.0,1376.9 1583.7,1377.1 1584.3,1375.7 1585.0,1372.7 1585.7,1368.3 1586.3,1362.9 1587.0,1356.8 1587.7,1350.5 1588.3,1344.5 1589.0,1339.2 1589.7,1334.9 1590.3,1332.1 1591.0,1330.8 1591.7,1331.2 1592.3,1333.3 1593.0,1336.9 1593.7,1341.7 1594.3,1347.5 1595.0,1353.7 1595.7,1359.9 1596.3,1365.7 1597.0,1370.6 1597.7,1374.4 1598.3,1376.6 1599.0,1377.2 1599.7,1376.1 1600.3,1373.4 1601.0,1369.3 1601.7,1364.1 1602.3,1358.1 1603.0,1351.9 1603.7,1345.8 1604.3,1340.2 1605.0,1335.7 1605.7,1332.6 1606.3,1330.9 1607.0,1331.0 1607.7,1332.7 1608.3,1336.0 1609.0,1340.6 1609.7,1346.2 1610.3,1352.3 1611.0,1358.6 1611.7,1364.5 1612.3,1369.7 1613.0,1373.7 1613.7,1376.3 1614.3,1377.2 1615.0,1376.5 1615.7,1374.2 1616.3,1370.3 1617.0,1365.3 1617.7,1359.5 1618.3,1353.2 1619.0,1347.0 1619.7,1341.4 1620.3,1336.6 1621.0,1333.1 1621.7,1331.1 1622.3,1330.8 1623.0,1332.2 1623.7,1335.2 1624.3,1339.5 1625.0,1344.9 1625.7,1351.0 1626.3,1357.2 1627.0,1363.3 1627.7,1368.6 1628.3,1372.9 1629.0,1375.9 1629.7,1377.2 1630.3,1376.8 1631.0,1374.8 1631.7,1371.3 1632.3,1366.5 1633.0,1360.8 1633.7,1354.6 1634.3,1348.3 1635.0,1342.5 1635.7,1337.5 1636.3,1333.7 1637.0,1331.4 1637.7,1330.8 1638.3,1331.8 1639.0,1334.4 1639.7,1338.5 1640.3,1343.7 1641.0,1349.6 1641.7,1355.9 1642.3,1362.0 1643.0,1367.6 1643.7,1372.1 1644.3,1375.4 1645.0,1377.0 1645.7,1377.0 1646.3,1375.4 1647.0,1372.1 1647.7,1367.6 1648.3,1362.0 1649.0,1355.9 1649.7,1349.6 1650.3,1343.7 1651.0,1338.5 1651.7,1334.4 1652.3,1331.8 1653.0,1330.8 1653.7,1331.4 1654.3,1333.7 1655.0,1337.5 1655.7,1342.5 1656.3,1348.3 1657.0,1354.6 1657.7,1360.8 1658.3,1366.5 1659.0,1371.3 1659.7,1374.8 1660.3,1376.8 1661.0,1377.2 1661.7,1375.9 1662.3,1372.9 1663.0,1368.6 1663.7,1363.3 1664.3,1357.2 1665.0,1351.0 1665.7,1344.9 1666.3,1339.5 1667.0,1335.2" fill="none" stroke="#6a6a6a" stroke-width="5.0" stroke-linejoin="round"/><circle cx="1540.9" cy="1354.0" r="1.3" fill="#eee"/><circle cx="1556.3" cy="1354.0" r="1.3" fill="#eee"/><circle cx="1571.8" cy="1354.0" r="1.3" fill="#eee"/><circle cx="1587.3" cy="1354.0" r="1.3" fill="#eee"/><circle cx="1602.8" cy="1354.0" r="1.3" fill="#eee"/><circle cx="1618.2" cy="1354.0" r="1.3" fill="#eee"/><circle cx="1633.7" cy="1354.0" r="1.3" fill="#eee"/><circle cx="1649.2" cy="1354.0" r="1.3" fill="#eee"/>
<circle cx="1287.5" cy="228" r="12" fill="none" stroke="#858585" stroke-width="6.5"/><path d="M 1247 268 Q 1247 256 1258 256 L 1318 256 Q 1326 258 1326 268 L 1326.5 337 L 1318 342 L 1256 342 L 1249 336 Z" fill="#6e6e6e" /><rect x="1268" y="258" width="40" height="82" fill="#8e8e8e" /><rect x="1250" y="260" width="18" height="78" fill="#5a5a5a" /><rect x="1308" y="260" width="16" height="78" fill="#7a7a7a" /><rect x="1261" y="342" width="54" height="10" fill="#3a3a3a" /><path d="M 1262 352 L 1314 352 L 1312 366 L 1310 368 L 1266 368 L 1264 366 Z" fill="url(#chrD)" /><rect x="1265" y="368" width="46" height="64" fill="url(#chrD)" /><rect x="1262" y="432" width="54" height="60" fill="url(#chrD)" /><line x1="1262" y1="432" x2="1316" y2="432" stroke="#222" stroke-width="2"/><rect x="1270" y="492" width="42.5" height="33" fill="url(#blackFadeBot)" opacity="0.85"/><rect x="1271" y="576" width="43" height="44" fill="url(#blackFadeTop)" opacity="0.85"/><line x1="1294" y1="584" x2="1294" y2="616" stroke="#aaa" stroke-width="2" opacity="0.6"/><rect x="1266" y="618" width="54" height="56" fill="url(#chrD)" /><rect x="1272" y="674" width="45" height="74" fill="url(#chrD)" /><rect x="1265" y="748" width="57" height="28" fill="url(#chrD)" /><rect x="1283" y="752" width="21" height="18" fill="#aaa" /><path d="M 1252 780 L 1262 776 L 1326 776 L 1334 780 L 1334 808 L 1326 812 L 1262 812 L 1252 808 Z" fill="#5e5e5e" /><rect x="1276" y="778" width="39" height="32" fill="#b8b8b8" /><rect x="1267" y="812" width="52" height="73" fill="url(#chrD)" /><line x1="1267" y1="818.0" x2="1319" y2="818.0" stroke="#222" stroke-width="1.6" opacity="0.6"/><line x1="1267" y1="824.0" x2="1319" y2="824.0" stroke="#222" stroke-width="1.6" opacity="0.6"/><line x1="1267" y1="830.0" x2="1319" y2="830.0" stroke="#222" stroke-width="1.6" opacity="0.6"/><line x1="1267" y1="836.0" x2="1319" y2="836.0" stroke="#222" stroke-width="1.6" opacity="0.6"/><line x1="1267" y1="842.0" x2="1319" y2="842.0" stroke="#222" stroke-width="1.6" opacity="0.6"/><line x1="1267" y1="848.0" x2="1319" y2="848.0" stroke="#222" stroke-width="1.6" opacity="0.6"/><line x1="1267" y1="854.0" x2="1319" y2="854.0" stroke="#222" stroke-width="1.6" opacity="0.6"/><line x1="1267" y1="860.0" x2="1319" y2="860.0" stroke="#222" stroke-width="1.6" opacity="0.6"/><line x1="1267" y1="866.0" x2="1319" y2="866.0" stroke="#222" stroke-width="1.6" opacity="0.6"/><rect x="1270" y="870" width="46" height="15" fill="url(#chrD)" /><circle cx="1291" cy="921" r="12" fill="none" stroke="#151515" stroke-width="8"/>
<ellipse cx="975.4" cy="282" rx="156.7" ry="150.5" fill="#1b1b1b"/><ellipse cx="975" cy="283" rx="143" ry="138" fill="none" stroke="#333" stroke-width="2"/><circle cx="974" cy="284" r="121" fill="#222"/><circle cx="974" cy="284" r="119" fill="url(#bezel29)"/><circle cx="974" cy="284" r="107" fill="#555"/><circle cx="974" cy="284" r="104.5" fill="#ededed"/><line x1="903.5" y1="343.1" x2="911.2" y2="336.7" stroke="#222" stroke-width="1.8"/><line x1="896.5" y1="333.5" x2="904.9" y2="328.1" stroke="#222" stroke-width="1.8"/><line x1="890.7" y1="323.1" x2="899.8" y2="318.8" stroke="#222" stroke-width="1.8"/><line x1="886.4" y1="312.0" x2="895.9" y2="309.0" stroke="#222" stroke-width="1.8"/><line x1="883.5" y1="300.4" x2="893.3" y2="298.6" stroke="#222" stroke-width="1.8"/><line x1="882.1" y1="288.6" x2="892.1" y2="288.1" stroke="#222" stroke-width="1.8"/><line x1="882.3" y1="276.7" x2="892.3" y2="277.5" stroke="#222" stroke-width="1.8"/><line x1="884.0" y1="264.9" x2="893.8" y2="267.0" stroke="#222" stroke-width="1.8"/><line x1="887.2" y1="253.4" x2="896.7" y2="256.7" stroke="#222" stroke-width="1.8"/><line x1="891.9" y1="242.4" x2="900.8" y2="247.0" stroke="#222" stroke-width="1.8"/><line x1="898.0" y1="232.2" x2="906.2" y2="237.8" stroke="#222" stroke-width="1.8"/><line x1="905.3" y1="222.8" x2="912.8" y2="229.4" stroke="#222" stroke-width="1.8"/><line x1="913.8" y1="214.4" x2="920.4" y2="222.0" stroke="#222" stroke-width="1.8"/><line x1="923.3" y1="207.2" x2="928.8" y2="215.6" stroke="#222" stroke-width="1.8"/><line x1="933.7" y1="201.3" x2="938.1" y2="210.3" stroke="#222" stroke-width="1.8"/><line x1="944.7" y1="196.8" x2="947.9" y2="206.3" stroke="#222" stroke-width="1.8"/><line x1="956.2" y1="193.7" x2="958.2" y2="203.5" stroke="#222" stroke-width="1.8"/><line x1="968.0" y1="192.2" x2="968.7" y2="202.2" stroke="#222" stroke-width="1.8"/><line x1="980.0" y1="192.2" x2="979.3" y2="202.2" stroke="#222" stroke-width="1.8"/><line x1="991.8" y1="193.7" x2="989.8" y2="203.5" stroke="#222" stroke-width="1.8"/><line x1="1003.3" y1="196.8" x2="1000.1" y2="206.3" stroke="#222" stroke-width="1.8"/><line x1="1014.3" y1="201.3" x2="1009.9" y2="210.3" stroke="#222" stroke-width="1.8"/><line x1="1024.7" y1="207.2" x2="1019.2" y2="215.6" stroke="#222" stroke-width="1.8"/><line x1="1034.2" y1="214.4" x2="1027.6" y2="222.0" stroke="#222" stroke-width="1.8"/><line x1="1042.7" y1="222.8" x2="1035.2" y2="229.4" stroke="#222" stroke-width="1.8"/><line x1="1050.0" y1="232.2" x2="1041.8" y2="237.8" stroke="#222" stroke-width="1.8"/><line x1="1056.1" y1="242.4" x2="1047.2" y2="247.0" stroke="#222" stroke-width="1.8"/><line x1="1060.8" y1="253.4" x2="1051.3" y2="256.7" stroke="#222" stroke-width="1.8"/><line x1="1064.0" y1="264.9" x2="1054.2" y2="267.0" stroke="#222" stroke-width="1.8"/><line x1="1065.7" y1="276.7" x2="1055.7" y2="277.5" stroke="#222" stroke-width="1.8"/><line x1="1065.9" y1="288.6" x2="1055.9" y2="288.1" stroke="#222" stroke-width="1.8"/><line x1="1064.5" y1="300.4" x2="1054.7" y2="298.6" stroke="#222" stroke-width="1.8"/><line x1="1061.6" y1="312.0" x2="1052.1" y2="309.0" stroke="#222" stroke-width="1.8"/><line x1="1057.3" y1="323.1" x2="1048.2" y2="318.8" stroke="#222" stroke-width="1.8"/><line x1="1051.5" y1="333.5" x2="1043.1" y2="328.1" stroke="#222" stroke-width="1.8"/><line x1="1044.5" y1="343.1" x2="1036.8" y2="336.7" stroke="#222" stroke-width="1.8"/><line x1="992" y1="190" x2="988" y2="215" stroke="#333" stroke-width="5"/><line x1="1047" y1="285" x2="1075" y2="285" stroke="#444" stroke-width="4"/><path d="M 883 294 L 899 294 M 883 294 L 884 315 Q 893 338 912 351 M 899 314 Q 906 330 920 342" fill="none" stroke="#333" stroke-width="3.5"/><line x1="886" y1="303" x2="897" y2="303" stroke="#333" stroke-width="1.5"/><line x1="888" y1="314" x2="899" y2="313" stroke="#333" stroke-width="1.5"/><line x1="892" y1="324" x2="904" y2="322" stroke="#333" stroke-width="1.5"/><line x1="898" y1="333" x2="909" y2="330" stroke="#333" stroke-width="1.5"/><line x1="905" y1="341" x2="914" y2="337" stroke="#333" stroke-width="1.5"/><text x="985" y="237" font-size="19" text-anchor="middle" font-family="Liberation Sans, sans-serif" font-weight="bold" fill="#1a1a1a" transform="translate(985,237) scale(0.72,1) translate(-985,-237)">200</text><text x="927" y="269" font-size="19" text-anchor="middle" font-family="Liberation Sans, sans-serif" font-weight="bold" fill="#1a1a1a" transform="translate(927,269) scale(0.72,1) translate(-927,-269)">100</text><text x="1029" y="291" font-size="19" text-anchor="middle" font-family="Liberation Sans, sans-serif" font-weight="bold" fill="#1a1a1a" transform="translate(1029,291) scale(0.72,1) translate(-1029,-291)">300</text><text x="1019.5" y="324" font-size="19" text-anchor="middle" font-family="Liberation Sans, sans-serif" font-weight="bold" fill="#1a1a1a" transform="translate(1019.5,324) scale(0.72,1) translate(-1019.5,-324)">350</text><text x="929.5" y="334" font-size="17" text-anchor="middle" font-family="Liberation Sans, sans-serif" font-weight="bold" fill="#1a1a1a" transform="translate(929.5,334) scale(0.72,1) translate(-929.5,-334)">0</text><text x="977" y="318" font-size="12" text-anchor="middle" font-family="Liberation Sans, sans-serif" font-weight="bold" fill="#1a1a1a" transform="translate(977,318) scale(0.72,1) translate(-977,-318)">bar</text><text x="978" y="343" font-size="13" text-anchor="middle" font-family="Liberation Mono, monospace" fill="#444">98050190</text><circle cx="955" cy="356" r="5" fill="none" stroke="#333" stroke-width="1.8"/><circle cx="998" cy="356" r="5" fill="none" stroke="#333" stroke-width="1.8"/><path d="M 962 386 L 970 368 L 976 368 L 971 380 Q 981 369 993 367 L 991 372 Q 981 373 973 388 Z" fill="#222"/><line x1="973.6" y1="284.3" x2="912" y2="349" stroke="#111" stroke-width="2.2"/><path d="M 976 280 L 990 250 Q 996 240 1006 247 Q 1014 255 1011 262 Q 1006 268 998 270 L 982 290 Z" fill="#555"/><circle cx="973.6" cy="284.3" r="12" fill="#333"/><circle cx="973.6" cy="284.3" r="8" fill="#888"/><rect x="948.5" y="440" width="62.5" height="15" fill="url(#chrH)" /><rect x="959" y="455" width="43.39999999999998" height="57" fill="url(#chrH3)" /><line x1="959" y1="460.5" x2="1002.4" y2="460.5" stroke="#444" stroke-width="1.4" opacity="0.6"/><line x1="959" y1="465.5" x2="1002.4" y2="465.5" stroke="#444" stroke-width="1.4" opacity="0.6"/><line x1="959" y1="470.5" x2="1002.4" y2="470.5" stroke="#444" stroke-width="1.4" opacity="0.6"/><line x1="959" y1="475.5" x2="1002.4" y2="475.5" stroke="#444" stroke-width="1.4" opacity="0.6"/><line x1="959" y1="480.5" x2="1002.4" y2="480.5" stroke="#444" stroke-width="1.4" opacity="0.6"/><line x1="959" y1="485.5" x2="1002.4" y2="485.5" stroke="#444" stroke-width="1.4" opacity="0.6"/><line x1="959" y1="490.5" x2="1002.4" y2="490.5" stroke="#444" stroke-width="1.4" opacity="0.6"/><line x1="959" y1="495.5" x2="1002.4" y2="495.5" stroke="#444" stroke-width="1.4" opacity="0.6"/><line x1="959" y1="500.5" x2="1002.4" y2="500.5" stroke="#444" stroke-width="1.4" opacity="0.6"/><line x1="959" y1="505.5" x2="1002.4" y2="505.5" stroke="#444" stroke-width="1.4" opacity="0.6"/>
<rect x="1471" y="408" width="70" height="55" fill="#b8b8b8" /><rect x="1471" y="408" width="12" height="55" fill="#777" /><rect x="1530" y="408" width="11" height="55" fill="#888" /><rect x="1476" y="463" width="60" height="47" fill="url(#chrH)" /><line x1="1476" y1="469.0" x2="1536" y2="469.0" stroke="#333" stroke-width="1.6" opacity="0.6"/><line x1="1476" y1="475.0" x2="1536" y2="475.0" stroke="#333" stroke-width="1.6" opacity="0.6"/><line x1="1476" y1="481.0" x2="1536" y2="481.0" stroke="#333" stroke-width="1.6" opacity="0.6"/><line x1="1476" y1="487.0" x2="1536" y2="487.0" stroke="#333" stroke-width="1.6" opacity="0.6"/><line x1="1476" y1="493.0" x2="1536" y2="493.0" stroke="#333" stroke-width="1.6" opacity="0.6"/><line x1="1476" y1="499.0" x2="1536" y2="499.0" stroke="#333" stroke-width="1.6" opacity="0.6"/><line x1="1476" y1="505.0" x2="1536" y2="505.0" stroke="#333" stroke-width="1.6" opacity="0.6"/><ellipse cx="1502" cy="278" rx="136" ry="130" fill="#6a6a6a"/><ellipse cx="1502" cy="278" rx="133.5" ry="127.5" fill="url(#bezel26)"/><ellipse cx="1502" cy="273" rx="127" ry="122" fill="#505050"/><ellipse cx="1502" cy="272" rx="119" ry="115" fill="#cfcfcf"/><ellipse cx="1502" cy="272" rx="108" ry="105" fill="#8a8a8a"/><ellipse cx="1502" cy="272" rx="105.5" ry="103" fill="url(#face26)"/><line x1="1435.8" y1="349.6" x2="1445.8" y2="338.4" stroke="#333" stroke-width="3"/><line x1="1427.4" y1="341.1" x2="1435.7" y2="333.8" stroke="#333" stroke-width="1.8"/><line x1="1420.1" y1="331.6" x2="1429.2" y2="325.5" stroke="#333" stroke-width="1.8"/><line x1="1414.0" y1="321.4" x2="1423.8" y2="316.4" stroke="#333" stroke-width="1.8"/><line x1="1409.2" y1="310.5" x2="1423.3" y2="305.3" stroke="#333" stroke-width="3"/><line x1="1405.7" y1="299.1" x2="1416.4" y2="296.5" stroke="#333" stroke-width="1.8"/><line x1="1403.7" y1="287.4" x2="1414.6" y2="286.1" stroke="#333" stroke-width="1.8"/><line x1="1403.0" y1="275.5" x2="1414.0" y2="275.5" stroke="#333" stroke-width="1.8"/><line x1="1403.8" y1="263.6" x2="1418.7" y2="265.5" stroke="#333" stroke-width="3"/><line x1="1406.0" y1="251.9" x2="1416.7" y2="254.6" stroke="#333" stroke-width="1.8"/><line x1="1409.6" y1="240.5" x2="1419.8" y2="244.5" stroke="#333" stroke-width="1.8"/><line x1="1414.5" y1="229.7" x2="1424.2" y2="234.8" stroke="#333" stroke-width="1.8"/><line x1="1420.7" y1="219.5" x2="1433.0" y2="228.1" stroke="#333" stroke-width="3"/><line x1="1428.1" y1="210.1" x2="1436.3" y2="217.5" stroke="#333" stroke-width="1.8"/><line x1="1436.5" y1="201.7" x2="1443.8" y2="210.0" stroke="#333" stroke-width="1.8"/><line x1="1445.9" y1="194.4" x2="1452.2" y2="203.5" stroke="#333" stroke-width="1.8"/><line x1="1456.1" y1="188.3" x2="1463.1" y2="201.6" stroke="#333" stroke-width="3"/><line x1="1467.0" y1="183.4" x2="1470.9" y2="193.7" stroke="#333" stroke-width="1.8"/><line x1="1478.4" y1="179.9" x2="1481.0" y2="190.5" stroke="#333" stroke-width="1.8"/><line x1="1490.1" y1="177.7" x2="1491.4" y2="188.6" stroke="#333" stroke-width="1.8"/><line x1="1502.0" y1="177.0" x2="1502.0" y2="192.0" stroke="#333" stroke-width="3"/><line x1="1513.9" y1="177.7" x2="1512.6" y2="188.6" stroke="#333" stroke-width="1.8"/><line x1="1525.6" y1="179.9" x2="1523.0" y2="190.5" stroke="#333" stroke-width="1.8"/><line x1="1537.0" y1="183.4" x2="1533.1" y2="193.7" stroke="#333" stroke-width="1.8"/><line x1="1547.9" y1="188.3" x2="1540.9" y2="201.6" stroke="#333" stroke-width="3"/><line x1="1558.1" y1="194.4" x2="1551.8" y2="203.5" stroke="#333" stroke-width="1.8"/><line x1="1567.5" y1="201.7" x2="1560.2" y2="210.0" stroke="#333" stroke-width="1.8"/><line x1="1575.9" y1="210.1" x2="1567.7" y2="217.5" stroke="#333" stroke-width="1.8"/><line x1="1583.3" y1="219.5" x2="1571.0" y2="228.1" stroke="#333" stroke-width="3"/><line x1="1589.5" y1="229.7" x2="1579.8" y2="234.8" stroke="#333" stroke-width="1.8"/><line x1="1594.4" y1="240.5" x2="1584.2" y2="244.5" stroke="#333" stroke-width="1.8"/><line x1="1598.0" y1="251.9" x2="1587.3" y2="254.6" stroke="#333" stroke-width="1.8"/><line x1="1600.2" y1="263.6" x2="1585.3" y2="265.5" stroke="#333" stroke-width="3"/><line x1="1601.0" y1="275.5" x2="1590.0" y2="275.5" stroke="#333" stroke-width="1.8"/><line x1="1600.3" y1="287.4" x2="1589.4" y2="286.1" stroke="#333" stroke-width="1.8"/><line x1="1598.3" y1="299.1" x2="1587.6" y2="296.5" stroke="#333" stroke-width="1.8"/><line x1="1594.8" y1="310.5" x2="1580.7" y2="305.3" stroke="#333" stroke-width="3"/><line x1="1590.0" y1="321.4" x2="1580.2" y2="316.4" stroke="#333" stroke-width="1.8"/><line x1="1583.9" y1="331.6" x2="1574.8" y2="325.5" stroke="#333" stroke-width="1.8"/><line x1="1576.6" y1="341.1" x2="1568.3" y2="333.8" stroke="#333" stroke-width="1.8"/><line x1="1568.2" y1="349.6" x2="1558.2" y2="338.4" stroke="#333" stroke-width="3"/><text x="1498" y="211" font-size="15" text-anchor="middle" font-family="Liberation Sans, sans-serif" font-weight="bold" fill="#555" transform="translate(1498,211) scale(0.7,1) translate(-1498,-211)">200</text><text x="1437" y="261" font-size="15" text-anchor="middle" font-family="Liberation Sans, sans-serif" font-weight="bold" fill="#555" transform="translate(1437,261) scale(0.7,1) translate(-1437,-261)">100</text><text x="1563" y="254" font-size="15" text-anchor="middle" font-family="Liberation Sans, sans-serif" font-weight="bold" fill="#555" transform="translate(1563,254) scale(0.7,1) translate(-1563,-254)">300</text><text x="1432" y="299" font-size="15" text-anchor="middle" font-family="Liberation Sans, sans-serif" font-weight="bold" fill="#555" transform="translate(1432,299) scale(0.7,1) translate(-1432,-299)">50</text><text x="1565" y="301" font-size="15" text-anchor="middle" font-family="Liberation Sans, sans-serif" font-weight="bold" fill="#555" transform="translate(1565,301) scale(0.7,1) translate(-1565,-301)">360</text><text x="1501" y="234" font-size="9" text-anchor="middle" font-family="Liberation Sans, sans-serif" font-weight="bold" fill="#555" transform="translate(1501,234) scale(0.7,1) translate(-1501,-234)">V1</text><text x="1499" y="326" font-size="21" text-anchor="middle" font-family="Liberation Sans, sans-serif" font-weight="bold" fill="#555" transform="translate(1499,326) scale(0.75,1) translate(-1499,-326)">Bar</text><text x="1503" y="255" font-size="14" text-anchor="middle" font-family="Liberation Sans, sans-serif" font-weight="bold" font-style="italic" fill="#666" transform="translate(1503,255) scale(0.85,1) translate(-1503,-255)">INTERSPIRO</text><line x1="1464" y1="258" x2="1540" y2="258" stroke="#888" stroke-width="1.5"/><path d="M 1407 300 A 98 98 0 0 0 1433 345 L 1441 336 A 86 86 0 0 1 1418 297 Z" fill="#6a6a6a"/><line x1="1501" y1="270" x2="1432" y2="340" stroke="#222" stroke-width="3"/><circle cx="1500.5" cy="270" r="16" fill="#2a2a2a"/><circle cx="1500.5" cy="270" r="7" fill="#555"/><circle cx="1500.5" cy="270" r="2.5" fill="#ddd"/>
<path d="M 1770 380 Q 1790 420 1794 470 L 1796 530 Q 1850 545 1910 532 L 1912 470 Q 1915 420 1935 385 Z" fill="url(#darkH)" /><path d="M 1770 380 Q 1790 420 1794 470 L 1796 530 Q 1850 545 1910 532 L 1912 470 Q 1915 420 1935 385 Z" fill="#4a4a4a" opacity="0.6"/><polygon points="2006.6,272.0 2006.5,275.4 2006.2,278.7 2005.8,282.1 2005.2,285.4 2004.5,288.7 2003.6,292.0 2002.6,295.2 2001.5,298.4 2000.2,301.6 1998.9,304.7 1998.4,308.0 1997.8,311.3 1997.1,314.6 1996.3,317.9 1995.3,321.1 1994.2,324.4 1993.0,327.5 1991.6,330.7 1990.0,333.8 1988.3,336.8 1986.4,339.7 1984.4,342.6 1982.3,345.4 1980.0,348.1 1977.6,350.7 1975.0,353.3 1972.4,355.7 1969.7,358.1 1966.9,360.4 1964.1,362.6 1961.9,365.3 1959.6,368.0 1957.3,370.7 1954.8,373.2 1952.2,375.7 1949.5,378.1 1946.7,380.4 1943.8,382.6 1940.8,384.7 1937.7,386.7 1934.4,388.6 1931.1,390.3 1927.7,391.9 1924.3,393.4 1920.7,394.7 1917.1,395.9 1913.5,397.0 1909.9,398.0 1906.2,398.9 1902.5,399.7 1899.1,401.3 1895.6,402.7 1892.1,404.1 1888.6,405.4 1885.0,406.5 1881.3,407.6 1877.6,408.5 1873.8,409.3 1870.1,409.9 1866.2,410.4 1862.4,410.7 1858.5,410.9 1854.7,410.9 1850.8,410.8 1847.0,410.6 1843.2,410.2 1839.4,409.7 1835.6,409.1 1831.9,408.4 1828.1,407.6 1824.3,407.6 1820.5,407.5 1816.7,407.3 1812.8,407.0 1809.0,406.5 1805.2,406.0 1801.5,405.3 1797.7,404.4 1794.0,403.4 1790.4,402.3 1786.8,401.1 1783.3,399.7 1779.9,398.1 1776.5,396.5 1773.3,394.7 1770.1,392.8 1767.0,390.8 1764.0,388.8 1761.0,386.6 1758.1,384.4 1754.8,382.9 1751.4,381.2 1748.2,379.5 1744.9,377.7 1741.8,375.7 1738.7,373.7 1735.8,371.5 1732.9,369.3 1730.2,366.9 1727.6,364.4 1725.1,361.9 1722.7,359.2 1720.5,356.4 1718.4,353.6 1716.4,350.7 1714.6,347.8 1712.9,344.7 1711.3,341.7 1709.9,338.6 1708.5,335.5 1706.3,332.7 1704.3,329.9 1702.3,327.1 1700.4,324.1 1698.7,321.1 1697.0,318.1 1695.6,315.0 1694.2,311.8 1693.1,308.6 1692.1,305.4 1691.2,302.1 1690.5,298.8 1690.0,295.4 1689.7,292.1 1689.5,288.7 1689.5,285.3 1689.6,282.0 1689.8,278.6 1690.1,275.3 1690.6,272.0 1690.1,268.7 1689.8,265.4 1689.6,262.0 1689.5,258.7 1689.5,255.3 1689.7,251.9 1690.0,248.6 1690.5,245.2 1691.2,241.9 1692.1,238.6 1693.1,235.4 1694.2,232.2 1695.6,229.0 1697.0,225.9 1698.7,222.9 1700.4,219.9 1702.3,216.9 1704.3,214.1 1706.3,211.3 1708.5,208.5 1709.9,205.4 1711.3,202.3 1712.9,199.3 1714.6,196.2 1716.4,193.3 1718.4,190.4 1720.5,187.6 1722.7,184.8 1725.1,182.1 1727.6,179.6 1730.2,177.1 1732.9,174.7 1735.8,172.5 1738.7,170.3 1741.8,168.3 1744.9,166.3 1748.2,164.5 1751.4,162.8 1754.8,161.1 1758.1,159.6 1761.0,157.4 1764.0,155.2 1767.0,153.2 1770.1,151.2 1773.3,149.3 1776.5,147.5 1779.9,145.9 1783.3,144.3 1786.8,142.9 1790.4,141.7 1794.0,140.6 1797.7,139.6 1801.5,138.7 1805.2,138.0 1809.0,137.5 1812.8,137.0 1816.7,136.7 1820.5,136.5 1824.3,136.4 1828.1,136.4 1831.9,135.6 1835.6,134.9 1839.4,134.3 1843.2,133.8 1847.0,133.4 1850.8,133.2 1854.7,133.1 1858.5,133.1 1862.4,133.3 1866.2,133.6 1870.1,134.1 1873.8,134.7 1877.6,135.5 1881.3,136.4 1885.0,137.5 1888.6,138.6 1892.1,139.9 1895.6,141.3 1899.1,142.7 1902.5,144.3 1906.2,145.1 1909.9,146.0 1913.5,147.0 1917.1,148.1 1920.7,149.3 1924.3,150.6 1927.7,152.1 1931.1,153.7 1934.4,155.4 1937.7,157.3 1940.8,159.3 1943.8,161.4 1946.7,163.6 1949.5,165.9 1952.2,168.3 1954.8,170.8 1957.3,173.3 1959.6,176.0 1961.9,178.7 1964.1,181.4 1966.9,183.6 1969.7,185.9 1972.4,188.3 1975.0,190.7 1977.6,193.3 1980.0,195.9 1982.3,198.6 1984.4,201.4 1986.4,204.3 1988.3,207.2 1990.0,210.2 1991.6,213.3 1993.0,216.5 1994.2,219.6 1995.3,222.9 1996.3,226.1 1997.1,229.4 1997.8,232.7 1998.4,236.0 1998.9,239.3 2000.2,242.4 2001.5,245.6 2002.6,248.8 2003.6,252.0 2004.5,255.3 2005.2,258.6 2005.8,261.9 2006.2,265.3 2006.5,268.6" fill="#4c4c4c"/><ellipse cx="1843" cy="282" rx="116" ry="116" fill="#2e2e2e"/><ellipse cx="1846" cy="296" rx="108" ry="97" fill="#4e4e4e"/><ellipse cx="1846" cy="296" rx="108" ry="97" fill="#4a4a4a" opacity="0.4"/>
<path d="M 1462 568 L 1500 568 L 1500 585 L 1462 585 Z" fill="url(#blackFadeTop)"/><path d="M 1397.5 665.5 A 84 84 0 1 1 1565.5 665.5 A 84 84 0 1 1 1397.5 665.5 Z M 1441.5 665.5 A 40 40 0 1 0 1521.5 665.5 A 40 40 0 1 0 1441.5 665.5 Z" fill="url(#disc30)" fill-rule="evenodd"/><path d="M 1467 626 Q 1486 622 1505 626 L 1511 748 L 1473 748 Z" fill="#131313"/><path d="M 1473 748 L 1511 748 L 1511 762 L 1473 762 Z" fill="url(#blackFadeBot)"/><text x="0" y="12" font-size="34" text-anchor="middle" font-family="Liberation Sans, sans-serif" font-weight="bold" fill="#151515" transform="translate(1423.6,643.3) rotate(-69.0) scale(0.7,1)">B</text><text x="0" y="12" font-size="34" text-anchor="middle" font-family="Liberation Sans, sans-serif" font-weight="bold" fill="#151515" transform="translate(1434.7,624.8) rotate(-49.0) scale(0.7,1)">A</text><text x="0" y="12" font-size="34" text-anchor="middle" font-family="Liberation Sans, sans-serif" font-weight="bold" fill="#151515" transform="translate(1447.7,613.5) rotate(-33.0) scale(0.7,1)">I</text><text x="0" y="12" font-size="34" text-anchor="middle" font-family="Liberation Sans, sans-serif" font-weight="bold" fill="#151515" transform="translate(1458.3,608.0) rotate(-22.0) scale(0.7,1)">L</text><text x="0" y="12" font-size="34" text-anchor="middle" font-family="Liberation Sans, sans-serif" font-weight="bold" fill="#151515" transform="translate(1488.0,603.8) rotate(6.0) scale(0.7,1)">O</text><text x="0" y="12" font-size="34" text-anchor="middle" font-family="Liberation Sans, sans-serif" font-weight="bold" fill="#151515" transform="translate(1507.7,609.3) rotate(25.0) scale(0.7,1)">U</text><text x="0" y="12" font-size="34" text-anchor="middle" font-family="Liberation Sans, sans-serif" font-weight="bold" fill="#151515" transform="translate(1523.0,619.4) rotate(42.0) scale(0.7,1)">T</text><text x="0" y="12" font-size="34" text-anchor="middle" font-family="Liberation Sans, sans-serif" font-weight="bold" fill="#151515" transform="translate(1426.8,694.6) rotate(62.0) scale(0.7,1)">R</text><text x="0" y="12" font-size="34" text-anchor="middle" font-family="Liberation Sans, sans-serif" font-weight="bold" fill="#151515" transform="translate(1437.7,709.3) rotate(45.0) scale(0.7,1)">E</text><text x="0" y="12" font-size="34" text-anchor="middle" font-family="Liberation Sans, sans-serif" font-weight="bold" fill="#151515" transform="translate(1456.3,722.1) rotate(24.0) scale(0.7,1)">G</text><text x="0" y="12" font-size="34" text-anchor="middle" font-family="Liberation Sans, sans-serif" font-weight="bold" fill="#151515" transform="translate(1518.8,715.0) rotate(323.0) scale(0.7,1)">A</text><text x="0" y="12" font-size="34" text-anchor="middle" font-family="Liberation Sans, sans-serif" font-weight="bold" fill="#151515" transform="translate(1531.7,701.9) rotate(306.0) scale(0.7,1)">T</text><text x="0" y="12" font-size="34" text-anchor="middle" font-family="Liberation Sans, sans-serif" font-weight="bold" fill="#151515" transform="translate(1540.1,685.7) rotate(289.0) scale(0.7,1)">O</text><text x="0" y="12" font-size="34" text-anchor="middle" font-family="Liberation Sans, sans-serif" font-weight="bold" fill="#151515" transform="translate(1543.5,667.7) rotate(272.0) scale(0.7,1)">R</text>
<rect x="925" y="1525" width="92" height="20" fill="url(#chr21)" /><rect x="921" y="1541" width="102" height="39" fill="url(#chr21)" /><line x1="921" y1="1547.5" x2="1023" y2="1547.5" stroke="#777" stroke-width="1.2" opacity="0.6"/><line x1="921" y1="1552.5" x2="1023" y2="1552.5" stroke="#777" stroke-width="1.2" opacity="0.6"/><line x1="921" y1="1557.5" x2="1023" y2="1557.5" stroke="#777" stroke-width="1.2" opacity="0.6"/><line x1="921" y1="1562.5" x2="1023" y2="1562.5" stroke="#777" stroke-width="1.2" opacity="0.6"/><line x1="921" y1="1567.5" x2="1023" y2="1567.5" stroke="#777" stroke-width="1.2" opacity="0.6"/><line x1="921" y1="1572.5" x2="1023" y2="1572.5" stroke="#777" stroke-width="1.2" opacity="0.6"/><line x1="921" y1="1577.5" x2="1023" y2="1577.5" stroke="#777" stroke-width="1.2" opacity="0.6"/><rect x="928" y="1580" width="92" height="13" fill="url(#chr21)" /><path d="M 907 1600 L 914 1593 L 1028 1593 L 1035 1600 L 1035 1618 L 1028 1625 L 914 1625 L 907 1618 Z" fill="#c6c6c6" /><rect x="945" y="1593" width="67" height="32" fill="#fafafa" /><ellipse cx="975" cy="1590" rx="28" ry="10" fill="#fff" filter="url(#soft3)"/><rect x="933" y="1625" width="83" height="102" fill="url(#chr21)" /><rect x="935" y="1727" width="81" height="39" fill="url(#chr21)" /><line x1="935" y1="1732" x2="1016" y2="1732" stroke="#666" stroke-width="2"/><line x1="935" y1="1763" x2="1016" y2="1763" stroke="#666" stroke-width="2"/><path d="M 939.5 1766 L 1009 1766 L 1009 1802 Q 975 1808 939.5 1802 Z" fill="url(#chr21)" /><circle cx="967.7" cy="1445.7" r="6" fill="#000"/><circle cx="967.7" cy="1488.6" r="6" fill="#000"/><line x1="967.7" y1="1452" x2="967.7" y2="1482" stroke="#000" stroke-width="2" stroke-dasharray="2 2.5"/>
<path d="M 1087 1462 Q 1088 1451 1125 1450 Q 1162 1451 1163 1462 L 1163 1486 L 1087 1486 Z" fill="#1a1a1a" /><path d="M 1110 1456 L 1112 1484" stroke="#555" stroke-width="3"/><rect x="1092" y="1486" width="63" height="46" fill="#3a3a3a" /><rect x="1092" y="1486" width="12" height="46" fill="#777" /><rect x="1104" y="1490" width="34" height="26" fill="#fff" /><rect x="1103" y="1516" width="39" height="24" fill="#1a1a1a" /><rect x="1112" y="1540" width="30" height="120" fill="#1e1e1e" /><path d="M 1101 1540.0 Q 1102 1533.0 1126 1533.0 Q 1152 1534.0 1153 1541.0 M 1101 1540.0 Q 1104 1545.0 1126 1544.0 Q 1150 1542.0 1153 1541.0 M 1101 1549.8 Q 1102 1542.8 1126 1542.8 Q 1152 1543.8 1153 1550.8 M 1101 1549.8 Q 1104 1554.8 1126 1553.8 Q 1150 1551.8 1153 1550.8 M 1101 1559.6 Q 1102 1552.6 1126 1552.6 Q 1152 1553.6 1153 1560.6 M 1101 1559.6 Q 1104 1564.6 1126 1563.6 Q 1150 1561.6 1153 1560.6 M 1101 1569.4 Q 1102 1562.4 1126 1562.4 Q 1152 1563.4 1153 1570.4 M 1101 1569.4 Q 1104 1574.4 1126 1573.4 Q 1150 1571.4 1153 1570.4 M 1101 1579.2 Q 1102 1572.2 1126 1572.2 Q 1152 1573.2 1153 1580.2 M 1101 1579.2 Q 1104 1584.2 1126 1583.2 Q 1150 1581.2 1153 1580.2 M 1101 1589.0 Q 1102 1582.0 1126 1582.0 Q 1152 1583.0 1153 1590.0 M 1101 1589.0 Q 1104 1594.0 1126 1593.0 Q 1150 1591.0 1153 1590.0 M 1101 1598.8 Q 1102 1591.8 1126 1591.8 Q 1152 1592.8 1153 1599.8 M 1101 1598.8 Q 1104 1603.8 1126 1602.8 Q 1150 1600.8 1153 1599.8 M 1101 1608.6 Q 1102 1601.6 1126 1601.6 Q 1152 1602.6 1153 1609.6 M 1101 1608.6 Q 1104 1613.6 1126 1612.6 Q 1150 1610.6 1153 1609.6 M 1101 1618.4 Q 1102 1611.4 1126 1611.4 Q 1152 1612.4 1153 1619.4 M 1101 1618.4 Q 1104 1623.4 1126 1622.4 Q 1150 1620.4 1153 1619.4 M 1101 1628.2 Q 1102 1621.2 1126 1621.2 Q 1152 1622.2 1153 1629.2 M 1101 1628.2 Q 1104 1633.2 1126 1632.2 Q 1150 1630.2 1153 1629.2 M 1101 1638.0 Q 1102 1631.0 1126 1631.0 Q 1152 1632.0 1153 1639.0 M 1101 1638.0 Q 1104 1643.0 1126 1642.0 Q 1150 1640.0 1153 1639.0 M 1101 1647.8 Q 1102 1640.8 1126 1640.8 Q 1152 1641.8 1153 1648.8 M 1101 1647.8 Q 1104 1652.8 1126 1651.8 Q 1150 1649.8 1153 1648.8 " fill="none" stroke="#444" stroke-width="2.6"/><path d="M 1094 1672 Q 1096 1656 1130 1656 Q 1164 1656 1166 1672 Q 1164 1688 1130 1690 Q 1096 1688 1094 1672 Z" fill="#161616" /><path d="M 1112 1688 L 1153 1688 L 1152 1740 Q 1132 1745 1113 1740 Z" fill="#1c1c1c" />
<path d="M 469 1699 Q 500 1680 525 1676 Q 546 1678 552 1690 Q 558 1712 556 1737 L 500 1790 L 504 1800 L 495 1815 L 474 1825 L 466 1814 L 458 1800 L 444 1799 L 432 1790 L 418 1770 L 420 1757 L 412 1740 L 413 1727 L 430 1716 L 440 1718 Z" fill="#fff"/><path d="M 430 1735 L 470 1705 L 522 1683 Q 545 1685 552 1715 L 548 1740 L 500 1782 L 470 1815 L 445 1790 Z" fill="#e2e2e2"/><path d="M 440 1760 L 520 1700 M 455 1790 L 500 1750" stroke="#fff" stroke-width="5" fill="none"/><g fill="none" stroke="#000" stroke-width="3" stroke-linejoin="round" stroke-linecap="round"><path d="M 469 1699 Q 500 1680 525 1676 Q 546 1678 552 1690 Q 558 1712 556 1737 L 500 1790 L 504 1800 L 495 1815 L 474 1825 L 466 1814 L 458 1800 L 444 1799 L 432 1790 L 418 1770 L 420 1757 L 412 1740 L 413 1727 L 430 1716 L 440 1718 Z"/><path d="M 525 1676 Q 510 1690 508 1715 Q 510 1735 535 1733" stroke-width="2"/><path d="M 622 1614 Q 590 1610 560 1613 Q 510 1620 497 1668 Q 485 1720 472 1822" stroke-width="2.6"/><path d="M 643 1635 Q 600 1630 570 1635 Q 525 1645 514 1690 Q 500 1745 490 1812" stroke-width="2.6"/></g><path d="M 618 1624 Q 608 1590 614 1565 Q 625 1540 650 1541 Q 685 1545 705 1580 Q 716 1605 712 1630 L 727 1645 Q 733 1660 715 1670 Q 705 1675 695 1668 L 643 1636 Z" fill="#fff" stroke="#000" stroke-width="3" stroke-linejoin="round"/><path d="M 690 1575 Q 703 1600 700 1625 L 690 1630 Q 695 1600 680 1578 Z" fill="#ddd"/><ellipse cx="663" cy="1596" rx="25" ry="34" transform="rotate(-28 663 1596)" fill="#fff" stroke="#000" stroke-width="3"/><path d="M 620 1620 L 640 1634" stroke="#000" stroke-width="2"/><text x="0" y="0" font-size="7" font-family="Liberation Sans, sans-serif" font-weight="bold" transform="translate(678,1640) rotate(28)">31 391</text><path d="M 710 1636 L 718 1640 L 714 1650 L 706 1646 Z" fill="#ddd" stroke="#000" stroke-width="1"/>
<line x1="155" y1="876" x2="155" y2="922" stroke="#000" stroke-width="2.8"/>
<line x1="324.5" y1="916" x2="324.5" y2="970" stroke="#000" stroke-width="2.8"/>
<line x1="60.5" y1="1154" x2="60.5" y2="1221" stroke="#000" stroke-width="2.8"/>
<line x1="155" y1="1110" x2="187" y2="1190" stroke="#000" stroke-width="2.8"/>
<line x1="464.5" y1="1125" x2="464.5" y2="1192.5" stroke="#000" stroke-width="2.8"/>
<line x1="564" y1="1140" x2="564" y2="1194.5" stroke="#000" stroke-width="2.8"/>
<line x1="655" y1="1100" x2="685" y2="1160" stroke="#000" stroke-width="2.8"/>
<line x1="834.5" y1="1335" x2="834.5" y2="1399" stroke="#000" stroke-width="2.8"/>
<line x1="664.5" y1="881" x2="664.5" y2="931" stroke="#000" stroke-width="2.8"/>
<line x1="902.2" y1="875.8" x2="910.3" y2="936.8" stroke="#000" stroke-width="2.8"/>
<line x1="960" y1="906.3" x2="925.9" y2="946.1" stroke="#000" stroke-width="2.8"/>
<line x1="1402" y1="1127.5" x2="1384" y2="1174" stroke="#000" stroke-width="2.8"/>
<line x1="1502" y1="1106" x2="1502" y2="1166" stroke="#000" stroke-width="2.8"/>
<line x1="1605" y1="1105" x2="1605" y2="1168" stroke="#000" stroke-width="2.8"/>
<line x1="1789.4" y1="1101.5" x2="1789.4" y2="1171" stroke="#000" stroke-width="2.8"/>
<line x1="1819.7" y1="842.5" x2="1819.7" y2="900" stroke="#000" stroke-width="2.8"/>
<line x1="1691" y1="951.2" x2="1760" y2="951.2" stroke="#000" stroke-width="2.8"/>
<line x1="1495" y1="1360.8" x2="1495" y2="1404" stroke="#000" stroke-width="2.8"/>
<line x1="1610.4" y1="1369.4" x2="1610.4" y2="1404" stroke="#000" stroke-width="2.8"/>
<line x1="1233.6" y1="657.9" x2="1282" y2="657.9" stroke="#000" stroke-width="2.8"/>
<line x1="880" y1="1661" x2="967.7" y2="1661" stroke="#000" stroke-width="2.8"/>
<line x1="1152.7" y1="1719" x2="1191.5" y2="1707" stroke="#000" stroke-width="2.8"/>
<line x1="1228" y1="227" x2="1275" y2="227" stroke="#000" stroke-width="2.8"/>
<line x1="1224" y1="920" x2="1274" y2="920" stroke="#000" stroke-width="2.8"/>
<line x1="392.7" y1="1699.7" x2="472" y2="1699.7" stroke="#000" stroke-width="2.8"/>
<line x1="1376" y1="157.5" x2="1460" y2="269" stroke="#000" stroke-width="2.8"/>
<line x1="1715" y1="149" x2="1756" y2="190" stroke="#000" stroke-width="2.8"/>
<line x1="814.6" y1="166.7" x2="849.9" y2="193" stroke="#000" stroke-width="2.8"/>
<line x1="1542" y1="704" x2="1566.5" y2="730.5" stroke="#000" stroke-width="2.8"/>
<circle cx="186.85" cy="431.75" r="43.4" fill="#95c11f" stroke="#000" stroke-width="2.9"/>
<path transform="translate(166.55,454.75) scale(0.03125,-0.03047)" d="M 763 0 L 583 0 L 583 1147 C 540 1106 483 1065 413 1024 C 343 983 280 953 223 932 L 223 1106 C 323 1153 411 1210 486 1277 C 561 1344 614 1410 645 1466 L 763 1466 Z" fill="#000"/>
<circle cx="60" cy="1264.75" r="43.4" fill="#fff" stroke="#000" stroke-width="2.9"/>
<text x="42.20" y="1287.75" font-size="64" font-family="Liberation Sans, sans-serif" fill="#000">2</text>
<circle cx="154" cy="830.5" r="43.4" fill="#95c11f" stroke="#000" stroke-width="2.9"/>
<text x="136.20" y="853.50" font-size="64" font-family="Liberation Sans, sans-serif" fill="#000">3</text>
<circle cx="190.6" cy="1233.8" r="43.4" fill="#fff" stroke="#000" stroke-width="2.9"/>
<text x="172.80" y="1256.80" font-size="64" font-family="Liberation Sans, sans-serif" fill="#000">4</text>
<circle cx="324" cy="872" r="43.4" fill="#95c11f" stroke="#000" stroke-width="2.9"/>
<text x="306.20" y="895.00" font-size="64" font-family="Liberation Sans, sans-serif" fill="#000">5</text>
<circle cx="464" cy="1237" r="43.4" fill="#fff" stroke="#000" stroke-width="2.9"/>
<text x="446.20" y="1260.00" font-size="64" font-family="Liberation Sans, sans-serif" fill="#000">6</text>
<circle cx="564" cy="1239" r="43.4" fill="#95c11f" stroke="#000" stroke-width="2.9"/>
<text x="546.20" y="1262.00" font-size="64" font-family="Liberation Sans, sans-serif" fill="#000">7</text>
<circle cx="716" cy="1198" r="43.4" fill="#fff" stroke="#000" stroke-width="2.9"/>
<text x="698.20" y="1221.00" font-size="64" font-family="Liberation Sans, sans-serif" fill="#000">8</text>
<circle cx="547.5" cy="747" r="43.4" fill="#fff" stroke="#000" stroke-width="2.9"/>
<text x="529.70" y="770.00" font-size="64" font-family="Liberation Sans, sans-serif" fill="#000">9</text>
<circle cx="663.85" cy="838" r="43.4" fill="#95c11f" stroke="#000" stroke-width="2.9"/>
<path transform="translate(626.75,861.00) scale(0.03125,-0.03047)" d="M 763 0 L 583 0 L 583 1147 C 540 1106 483 1065 413 1024 C 343 983 280 953 223 932 L 223 1106 C 323 1153 411 1210 486 1277 C 561 1344 614 1410 645 1466 L 763 1466 Z" fill="#000"/><text x="662.35" y="861.00" font-size="64" font-family="Liberation Sans, sans-serif" fill="#000">0</text>
<circle cx="897.9" cy="829.7" r="43.4" fill="#95c11f" stroke="#000" stroke-width="2.9"/>
<path transform="translate(863.18,852.70) scale(0.03125,-0.03047)" d="M 763 0 L 583 0 L 583 1147 C 540 1106 483 1065 413 1024 C 343 983 280 953 223 932 L 223 1106 C 323 1153 411 1210 486 1277 C 561 1344 614 1410 645 1466 L 763 1466 Z" fill="#000"/><path transform="translate(894.03,852.70) scale(0.03125,-0.03047)" d="M 763 0 L 583 0 L 583 1147 C 540 1106 483 1065 413 1024 C 343 983 280 953 223 932 L 223 1106 C 323 1153 411 1210 486 1277 C 561 1344 614 1410 645 1466 L 763 1466 Z" fill="#000"/>
<circle cx="996" cy="877.9" r="43.4" fill="#95c11f" stroke="#000" stroke-width="2.9"/>
<path transform="translate(958.90,900.90) scale(0.03125,-0.03047)" d="M 763 0 L 583 0 L 583 1147 C 540 1106 483 1065 413 1024 C 343 983 280 953 223 932 L 223 1106 C 323 1153 411 1210 486 1277 C 561 1344 614 1410 645 1466 L 763 1466 Z" fill="#000"/><text x="994.50" y="900.90" font-size="64" font-family="Liberation Sans, sans-serif" fill="#000">2</text>
<circle cx="1380" cy="1217.5" r="43.4" fill="#95c11f" stroke="#000" stroke-width="2.9"/>
<path transform="translate(1342.90,1240.50) scale(0.03125,-0.03047)" d="M 763 0 L 583 0 L 583 1147 C 540 1106 483 1065 413 1024 C 343 983 280 953 223 932 L 223 1106 C 323 1153 411 1210 486 1277 C 561 1344 614 1410 645 1466 L 763 1466 Z" fill="#000"/><text x="1378.50" y="1240.50" font-size="64" font-family="Liberation Sans, sans-serif" fill="#000">3</text>
<circle cx="1500.6" cy="1210" r="43.4" fill="#fff" stroke="#000" stroke-width="2.9"/>
<path transform="translate(1463.50,1233.00) scale(0.03125,-0.03047)" d="M 763 0 L 583 0 L 583 1147 C 540 1106 483 1065 413 1024 C 343 983 280 953 223 932 L 223 1106 C 323 1153 411 1210 486 1277 C 561 1344 614 1410 645 1466 L 763 1466 Z" fill="#000"/><text x="1499.10" y="1233.00" font-size="64" font-family="Liberation Sans, sans-serif" fill="#000">4</text>
<circle cx="1604" cy="1212.5" r="43.4" fill="#fff" stroke="#000" stroke-width="2.9"/>
<path transform="translate(1566.90,1235.50) scale(0.03125,-0.03047)" d="M 763 0 L 583 0 L 583 1147 C 540 1106 483 1065 413 1024 C 343 983 280 953 223 932 L 223 1106 C 323 1153 411 1210 486 1277 C 561 1344 614 1410 645 1466 L 763 1466 Z" fill="#000"/><text x="1602.50" y="1235.50" font-size="64" font-family="Liberation Sans, sans-serif" fill="#000">5</text>
<circle cx="1789.5" cy="1215.5" r="43.4" fill="#fff" stroke="#000" stroke-width="2.9"/>
<path transform="translate(1752.40,1238.50) scale(0.03125,-0.03047)" d="M 763 0 L 583 0 L 583 1147 C 540 1106 483 1065 413 1024 C 343 983 280 953 223 932 L 223 1106 C 323 1153 411 1210 486 1277 C 561 1344 614 1410 645 1466 L 763 1466 Z" fill="#000"/><text x="1788.00" y="1238.50" font-size="64" font-family="Liberation Sans, sans-serif" fill="#000">6</text>
<circle cx="1646" cy="953" r="43.4" fill="#95c11f" stroke="#000" stroke-width="2.9"/>
<path transform="translate(1608.90,976.00) scale(0.03125,-0.03047)" d="M 763 0 L 583 0 L 583 1147 C 540 1106 483 1065 413 1024 C 343 983 280 953 223 932 L 223 1106 C 323 1153 411 1210 486 1277 C 561 1344 614 1410 645 1466 L 763 1466 Z" fill="#000"/><text x="1644.50" y="976.00" font-size="64" font-family="Liberation Sans, sans-serif" fill="#000">7</text>
<circle cx="1819" cy="798" r="43.4" fill="#95c11f" stroke="#000" stroke-width="2.9"/>
<path transform="translate(1781.90,821.00) scale(0.03125,-0.03047)" d="M 763 0 L 583 0 L 583 1147 C 540 1106 483 1065 413 1024 C 343 983 280 953 223 932 L 223 1106 C 323 1153 411 1210 486 1277 C 561 1344 614 1410 645 1466 L 763 1466 Z" fill="#000"/><text x="1817.50" y="821.00" font-size="64" font-family="Liberation Sans, sans-serif" fill="#000">8</text>
<circle cx="834" cy="1443" r="43.4" fill="#95c11f" stroke="#000" stroke-width="2.9"/>
<path transform="translate(796.90,1466.00) scale(0.03125,-0.03047)" d="M 763 0 L 583 0 L 583 1147 C 540 1106 483 1065 413 1024 C 343 983 280 953 223 932 L 223 1106 C 323 1153 411 1210 486 1277 C 561 1344 614 1410 645 1466 L 763 1466 Z" fill="#000"/><text x="832.50" y="1466.00" font-size="64" font-family="Liberation Sans, sans-serif" fill="#000">9</text>
<circle cx="1189.3" cy="658.4" r="43.4" fill="#fff" stroke="#000" stroke-width="2.9"/>
<text x="1153.70" y="681.40" font-size="64" font-family="Liberation Sans, sans-serif" fill="#000">2</text><text x="1189.30" y="681.40" font-size="64" font-family="Liberation Sans, sans-serif" fill="#000">0</text>
<circle cx="836" cy="1661.3" r="43.4" fill="#fff" stroke="#000" stroke-width="2.9"/>
<text x="800.40" y="1684.30" font-size="64" font-family="Liberation Sans, sans-serif" fill="#000">2</text><path transform="translate(836.00,1684.30) scale(0.03125,-0.03047)" d="M 763 0 L 583 0 L 583 1147 C 540 1106 483 1065 413 1024 C 343 983 280 953 223 932 L 223 1106 C 323 1153 411 1210 486 1277 C 561 1344 614 1410 645 1466 L 763 1466 Z" fill="#000"/>
<circle cx="1235.8" cy="1703" r="43.4" fill="#95c11f" stroke="#000" stroke-width="2.9"/>
<text x="1200.20" y="1726.00" font-size="64" font-family="Liberation Sans, sans-serif" fill="#000">2</text><text x="1235.80" y="1726.00" font-size="64" font-family="Liberation Sans, sans-serif" fill="#000">2</text>
<circle cx="1184.4" cy="231.5" r="43.4" fill="#fff" stroke="#000" stroke-width="2.9"/>
<text x="1148.80" y="254.50" font-size="64" font-family="Liberation Sans, sans-serif" fill="#000">2</text><text x="1184.40" y="254.50" font-size="64" font-family="Liberation Sans, sans-serif" fill="#000">3</text>
<circle cx="1180.6" cy="923" r="43.4" fill="#fff" stroke="#000" stroke-width="2.9"/>
<text x="1145.00" y="946.00" font-size="64" font-family="Liberation Sans, sans-serif" fill="#000">2</text><text x="1180.60" y="946.00" font-size="64" font-family="Liberation Sans, sans-serif" fill="#000">3</text>
<circle cx="348.6" cy="1700" r="43.4" fill="#fff" stroke="#000" stroke-width="2.9"/>
<text x="313.00" y="1723.00" font-size="64" font-family="Liberation Sans, sans-serif" fill="#000">2</text><text x="348.60" y="1723.00" font-size="64" font-family="Liberation Sans, sans-serif" fill="#000">4</text>
<circle cx="1301" cy="1491" r="43.4" fill="#fff" stroke="#000" stroke-width="2.9"/>
<text x="1265.40" y="1514.00" font-size="64" font-family="Liberation Sans, sans-serif" fill="#000">2</text><text x="1301.00" y="1514.00" font-size="64" font-family="Liberation Sans, sans-serif" fill="#000">5</text>
<circle cx="1429.6" cy="87" r="43.4" fill="#fff" stroke="#000" stroke-width="2.9"/>
<text x="1394.00" y="110.00" font-size="64" font-family="Liberation Sans, sans-serif" fill="#000">2</text><text x="1429.60" y="110.00" font-size="64" font-family="Liberation Sans, sans-serif" fill="#000">7</text>
<circle cx="1351" cy="125.5" r="43.4" fill="#fff" stroke="#000" stroke-width="2.9"/>
<text x="1315.40" y="148.50" font-size="64" font-family="Liberation Sans, sans-serif" fill="#000">2</text><text x="1351.00" y="148.50" font-size="64" font-family="Liberation Sans, sans-serif" fill="#000">6</text>
<circle cx="1685" cy="124" r="43.4" fill="#fff" stroke="#000" stroke-width="2.9"/>
<text x="1649.40" y="147.00" font-size="64" font-family="Liberation Sans, sans-serif" fill="#000">2</text><text x="1685.00" y="147.00" font-size="64" font-family="Liberation Sans, sans-serif" fill="#000">8</text>
<circle cx="776" cy="143" r="43.4" fill="#fff" stroke="#000" stroke-width="2.9"/>
<text x="740.40" y="166.00" font-size="64" font-family="Liberation Sans, sans-serif" fill="#000">2</text><text x="776.00" y="166.00" font-size="64" font-family="Liberation Sans, sans-serif" fill="#000">9</text>
<circle cx="1602.8" cy="755.4" r="43.4" fill="#fff" stroke="#000" stroke-width="2.9"/>
<text x="1567.20" y="778.40" font-size="64" font-family="Liberation Sans, sans-serif" fill="#000">3</text><text x="1602.80" y="778.40" font-size="64" font-family="Liberation Sans, sans-serif" fill="#000">0</text>
<circle cx="1496" cy="1446.5" r="40.9" fill="#fff" stroke="#000" stroke-width="2.9"/>
<text x="1460.40" y="1469.50" font-size="64" font-family="Liberation Sans, sans-serif" fill="#000">3</text><path transform="translate(1496.00,1469.50) scale(0.03125,-0.03047)" d="M 763 0 L 583 0 L 583 1147 C 540 1106 483 1065 413 1024 C 343 983 280 953 223 932 L 223 1106 C 323 1153 411 1210 486 1277 C 561 1344 614 1410 645 1466 L 763 1466 Z" fill="#000"/>
<circle cx="1607" cy="1446.5" r="40.9" fill="#fff" stroke="#000" stroke-width="2.9"/>
<path transform="translate(1569.90,1469.50) scale(0.03125,-0.03047)" d="M 763 0 L 583 0 L 583 1147 C 540 1106 483 1065 413 1024 C 343 983 280 953 223 932 L 223 1106 C 323 1153 411 1210 486 1277 C 561 1344 614 1410 645 1466 L 763 1466 Z" fill="#000"/><text x="1605.50" y="1469.50" font-size="64" font-family="Liberation Sans, sans-serif" fill="#000">5</text>
<text x="1643" y="752" font-size="54.2" font-family="Liberation Sans, sans-serif" fill="#000">**</text>
</svg></body></html>
